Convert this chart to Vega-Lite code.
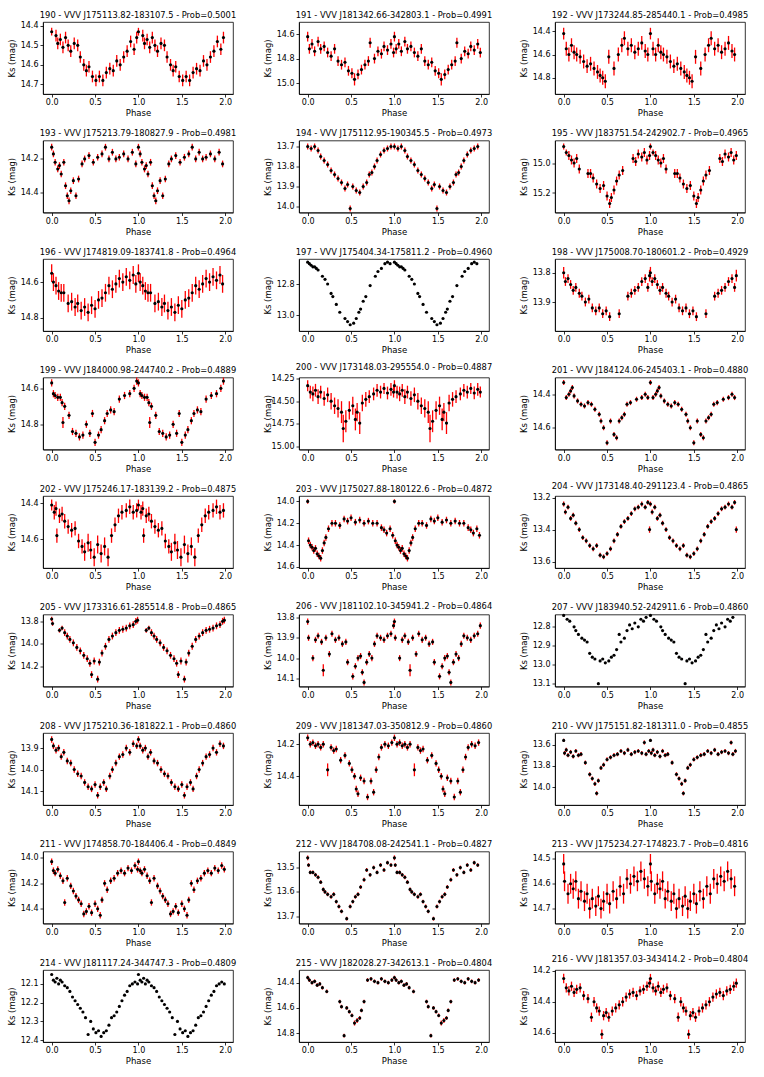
{
"$schema":"https://vega.github.io/schema/vega-lite/v6.json",
"columns":3,
"spacing":{"row":46.5,"column":66},
"bounds":"flush",
"padding":{"left":6,"top":10,"right":5,"bottom":5},
"datasets":{
"s190":[{"p":0,"m":14.43,"e":0.02},{"p":0.05,"m":14.45,"e":0.03},{"p":0.07,"m":14.49,"e":0.03},{"p":0.1,"m":14.47,"e":0.03},{"p":0.13,"m":14.51,"e":0.03},{"p":0.16,"m":14.46,"e":0.03},{"p":0.19,"m":14.5,"e":0.03},{"p":0.22,"m":14.53,"e":0.03},{"p":0.26,"m":14.49,"e":0.03},{"p":0.3,"m":14.5,"e":0.03},{"p":0.33,"m":14.56,"e":0.03},{"p":0.37,"m":14.6,"e":0.03},{"p":0.4,"m":14.63,"e":0.03},{"p":0.43,"m":14.61,"e":0.03},{"p":0.47,"m":14.66,"e":0.03},{"p":0.51,"m":14.68,"e":0.03},{"p":0.55,"m":14.66,"e":0.03},{"p":0.59,"m":14.68,"e":0.03},{"p":0.63,"m":14.64,"e":0.03},{"p":0.67,"m":14.62,"e":0.03},{"p":0.71,"m":14.63,"e":0.03},{"p":0.75,"m":14.58,"e":0.03},{"p":0.79,"m":14.6,"e":0.03},{"p":0.83,"m":14.56,"e":0.03},{"p":0.87,"m":14.53,"e":0.03},{"p":0.91,"m":14.48,"e":0.03},{"p":0.95,"m":14.52,"e":0.03},{"p":0.98,"m":14.46,"e":0.03},
{"p":1,"m":14.43,"e":0.02},{"p":1.05,"m":14.45,"e":0.03},{"p":1.07,"m":14.49,"e":0.03},{"p":1.1,"m":14.47,"e":0.03},{"p":1.13,"m":14.51,"e":0.03},{"p":1.16,"m":14.46,"e":0.03},{"p":1.19,"m":14.5,"e":0.03},{"p":1.22,"m":14.53,"e":0.03},{"p":1.26,"m":14.49,"e":0.03},{"p":1.3,"m":14.5,"e":0.03},{"p":1.33,"m":14.56,"e":0.03},{"p":1.37,"m":14.6,"e":0.03},{"p":1.4,"m":14.63,"e":0.03},{"p":1.43,"m":14.61,"e":0.03},{"p":1.47,"m":14.66,"e":0.03},{"p":1.51,"m":14.68,"e":0.03},{"p":1.55,"m":14.66,"e":0.03},{"p":1.59,"m":14.68,"e":0.03},{"p":1.63,"m":14.64,"e":0.03},{"p":1.67,"m":14.62,"e":0.03},{"p":1.71,"m":14.63,"e":0.03},{"p":1.75,"m":14.58,"e":0.03},{"p":1.79,"m":14.6,"e":0.03},{"p":1.83,"m":14.56,"e":0.03},{"p":1.87,"m":14.53,"e":0.03},{"p":1.91,"m":14.48,"e":0.03},{"p":1.95,"m":14.52,"e":0.03},{"p":1.98,"m":14.46,"e":0.03}],
"s191":[{"p":0,"m":14.62,"e":0.04},{"p":0.02,"m":14.72,"e":0.04},{"p":0.05,"m":14.68,"e":0.04},{"p":0.08,"m":14.74,"e":0.04},{"p":0.12,"m":14.66,"e":0.04},{"p":0.15,"m":14.72,"e":0.04},{"p":0.19,"m":14.7,"e":0.04},{"p":0.23,"m":14.75,"e":0.04},{"p":0.27,"m":14.78,"e":0.04},{"p":0.31,"m":14.72,"e":0.04},{"p":0.35,"m":14.82,"e":0.04},{"p":0.39,"m":14.85,"e":0.04},{"p":0.43,"m":14.83,"e":0.04},{"p":0.47,"m":14.9,"e":0.04},{"p":0.51,"m":14.92,"e":0.04},{"p":0.54,"m":14.97,"e":0.05},{"p":0.58,"m":14.93,"e":0.04},{"p":0.62,"m":14.89,"e":0.04},{"p":0.66,"m":14.85,"e":0.04},{"p":0.7,"m":14.82,"e":0.04},{"p":0.72,"m":14.67,"e":0.04},{"p":0.77,"m":14.8,"e":0.04},{"p":0.81,"m":14.74,"e":0.04},{"p":0.85,"m":14.76,"e":0.04},{"p":0.88,"m":14.7,"e":0.04},{"p":0.92,"m":14.73,"e":0.04},{"p":0.96,"m":14.68,"e":0.04},{"p":0.99,"m":14.75,"e":0.04},
{"p":1,"m":14.62,"e":0.04},{"p":1.02,"m":14.72,"e":0.04},{"p":1.05,"m":14.68,"e":0.04},{"p":1.08,"m":14.74,"e":0.04},{"p":1.12,"m":14.66,"e":0.04},{"p":1.15,"m":14.72,"e":0.04},{"p":1.19,"m":14.7,"e":0.04},{"p":1.23,"m":14.75,"e":0.04},{"p":1.27,"m":14.78,"e":0.04},{"p":1.31,"m":14.72,"e":0.04},{"p":1.35,"m":14.82,"e":0.04},{"p":1.39,"m":14.85,"e":0.04},{"p":1.43,"m":14.83,"e":0.04},{"p":1.47,"m":14.9,"e":0.04},{"p":1.51,"m":14.92,"e":0.04},{"p":1.54,"m":14.97,"e":0.05},{"p":1.58,"m":14.93,"e":0.04},{"p":1.62,"m":14.89,"e":0.04},{"p":1.66,"m":14.85,"e":0.04},{"p":1.7,"m":14.82,"e":0.04},{"p":1.72,"m":14.67,"e":0.04},{"p":1.77,"m":14.8,"e":0.04},{"p":1.81,"m":14.74,"e":0.04},{"p":1.85,"m":14.76,"e":0.04},{"p":1.88,"m":14.7,"e":0.04},{"p":1.92,"m":14.73,"e":0.04},{"p":1.96,"m":14.68,"e":0.04},{"p":1.99,"m":14.75,"e":0.04}],
"s192":[{"p":0,"m":14.42,"e":0.05},{"p":0.03,"m":14.55,"e":0.06},{"p":0.06,"m":14.6,"e":0.06},{"p":0.09,"m":14.52,"e":0.06},{"p":0.12,"m":14.58,"e":0.06},{"p":0.15,"m":14.6,"e":0.06},{"p":0.19,"m":14.62,"e":0.06},{"p":0.23,"m":14.66,"e":0.06},{"p":0.27,"m":14.7,"e":0.06},{"p":0.31,"m":14.68,"e":0.06},{"p":0.35,"m":14.72,"e":0.06},{"p":0.39,"m":14.75,"e":0.06},{"p":0.42,"m":14.78,"e":0.06},{"p":0.45,"m":14.8,"e":0.06},{"p":0.48,"m":14.83,"e":0.06},{"p":0.52,"m":14.62,"e":0.06},{"p":0.58,"m":14.72,"e":0.06},{"p":0.63,"m":14.6,"e":0.06},{"p":0.67,"m":14.52,"e":0.06},{"p":0.7,"m":14.46,"e":0.06},{"p":0.74,"m":14.55,"e":0.06},{"p":0.78,"m":14.52,"e":0.06},{"p":0.82,"m":14.58,"e":0.06},{"p":0.86,"m":14.55,"e":0.06},{"p":0.9,"m":14.5,"e":0.06},{"p":0.94,"m":14.57,"e":0.06},{"p":0.97,"m":14.6,"e":0.06},
{"p":1,"m":14.42,"e":0.05},{"p":1.03,"m":14.55,"e":0.06},{"p":1.06,"m":14.6,"e":0.06},{"p":1.09,"m":14.52,"e":0.06},{"p":1.12,"m":14.58,"e":0.06},{"p":1.15,"m":14.6,"e":0.06},{"p":1.19,"m":14.62,"e":0.06},{"p":1.23,"m":14.66,"e":0.06},{"p":1.27,"m":14.7,"e":0.06},{"p":1.31,"m":14.68,"e":0.06},{"p":1.35,"m":14.72,"e":0.06},{"p":1.39,"m":14.75,"e":0.06},{"p":1.42,"m":14.78,"e":0.06},{"p":1.45,"m":14.8,"e":0.06},{"p":1.48,"m":14.83,"e":0.06},{"p":1.52,"m":14.62,"e":0.06},{"p":1.58,"m":14.72,"e":0.06},{"p":1.63,"m":14.6,"e":0.06},{"p":1.67,"m":14.52,"e":0.06},{"p":1.7,"m":14.46,"e":0.06},{"p":1.74,"m":14.55,"e":0.06},{"p":1.78,"m":14.52,"e":0.06},{"p":1.82,"m":14.58,"e":0.06},{"p":1.86,"m":14.55,"e":0.06},{"p":1.9,"m":14.5,"e":0.06},{"p":1.94,"m":14.57,"e":0.06},{"p":1.97,"m":14.6,"e":0.06}],
"s193":[{"p":0,"m":14.13,"e":0.02},{"p":0.02,"m":14.17,"e":0.02},{"p":0.04,"m":14.22,"e":0.02},{"p":0.07,"m":14.26,"e":0.02},{"p":0.09,"m":14.24,"e":0.02},{"p":0.11,"m":14.29,"e":0.02},{"p":0.14,"m":14.22,"e":0.02},{"p":0.16,"m":14.36,"e":0.02},{"p":0.18,"m":14.42,"e":0.02},{"p":0.2,"m":14.45,"e":0.02},{"p":0.22,"m":14.39,"e":0.02},{"p":0.25,"m":14.33,"e":0.02},{"p":0.28,"m":14.42,"e":0.02},{"p":0.31,"m":14.32,"e":0.02},{"p":0.35,"m":14.23,"e":0.02},{"p":0.38,"m":14.2,"e":0.02},{"p":0.43,"m":14.18,"e":0.02},{"p":0.48,"m":14.22,"e":0.02},{"p":0.53,"m":14.19,"e":0.02},{"p":0.58,"m":14.17,"e":0.02},{"p":0.62,"m":14.13,"e":0.02},{"p":0.66,"m":14.2,"e":0.02},{"p":0.7,"m":14.16,"e":0.02},{"p":0.74,"m":14.2,"e":0.02},{"p":0.78,"m":14.19,"e":0.02},{"p":0.83,"m":14.17,"e":0.02},{"p":0.88,"m":14.2,"e":0.02},{"p":0.93,"m":14.16,"e":0.02},{"p":0.97,"m":14.23,"e":0.02},
{"p":1,"m":14.13,"e":0.02},{"p":1.02,"m":14.17,"e":0.02},{"p":1.04,"m":14.22,"e":0.02},{"p":1.07,"m":14.26,"e":0.02},{"p":1.09,"m":14.24,"e":0.02},{"p":1.11,"m":14.29,"e":0.02},{"p":1.14,"m":14.22,"e":0.02},{"p":1.16,"m":14.36,"e":0.02},{"p":1.18,"m":14.42,"e":0.02},{"p":1.2,"m":14.45,"e":0.02},{"p":1.22,"m":14.39,"e":0.02},{"p":1.25,"m":14.33,"e":0.02},{"p":1.28,"m":14.42,"e":0.02},{"p":1.31,"m":14.32,"e":0.02},{"p":1.35,"m":14.23,"e":0.02},{"p":1.38,"m":14.2,"e":0.02},{"p":1.43,"m":14.18,"e":0.02},{"p":1.48,"m":14.22,"e":0.02},{"p":1.53,"m":14.19,"e":0.02},{"p":1.58,"m":14.17,"e":0.02},{"p":1.62,"m":14.13,"e":0.02},{"p":1.66,"m":14.2,"e":0.02},{"p":1.7,"m":14.16,"e":0.02},{"p":1.74,"m":14.2,"e":0.02},{"p":1.78,"m":14.19,"e":0.02},{"p":1.83,"m":14.17,"e":0.02},{"p":1.88,"m":14.2,"e":0.02},{"p":1.93,"m":14.16,"e":0.02},{"p":1.97,"m":14.23,"e":0.02}],
"s194":[{"p":0,"m":13.7,"e":0.015},{"p":0.04,"m":13.71,"e":0.015},{"p":0.08,"m":13.7,"e":0.015},{"p":0.12,"m":13.72,"e":0.015},{"p":0.15,"m":13.75,"e":0.015},{"p":0.19,"m":13.77,"e":0.015},{"p":0.23,"m":13.79,"e":0.015},{"p":0.27,"m":13.82,"e":0.015},{"p":0.31,"m":13.84,"e":0.015},{"p":0.35,"m":13.86,"e":0.015},{"p":0.39,"m":13.88,"e":0.015},{"p":0.43,"m":13.91,"e":0.015},{"p":0.46,"m":13.89,"e":0.015},{"p":0.49,"m":14.01,"e":0.015},{"p":0.52,"m":13.9,"e":0.015},{"p":0.56,"m":13.92,"e":0.015},{"p":0.6,"m":13.93,"e":0.015},{"p":0.64,"m":13.9,"e":0.015},{"p":0.68,"m":13.88,"e":0.015},{"p":0.71,"m":13.84,"e":0.015},{"p":0.74,"m":13.83,"e":0.015},{"p":0.77,"m":13.8,"e":0.015},{"p":0.8,"m":13.77,"e":0.015},{"p":0.84,"m":13.74,"e":0.015},{"p":0.88,"m":13.72,"e":0.015},{"p":0.92,"m":13.71,"e":0.015},{"p":0.96,"m":13.7,"e":0.015},
{"p":1,"m":13.7,"e":0.015},{"p":1.04,"m":13.71,"e":0.015},{"p":1.08,"m":13.7,"e":0.015},{"p":1.12,"m":13.72,"e":0.015},{"p":1.15,"m":13.75,"e":0.015},{"p":1.19,"m":13.77,"e":0.015},{"p":1.23,"m":13.79,"e":0.015},{"p":1.27,"m":13.82,"e":0.015},{"p":1.31,"m":13.84,"e":0.015},{"p":1.35,"m":13.86,"e":0.015},{"p":1.39,"m":13.88,"e":0.015},{"p":1.43,"m":13.91,"e":0.015},{"p":1.46,"m":13.89,"e":0.015},{"p":1.49,"m":14.01,"e":0.015},{"p":1.52,"m":13.9,"e":0.015},{"p":1.56,"m":13.92,"e":0.015},{"p":1.6,"m":13.93,"e":0.015},{"p":1.64,"m":13.9,"e":0.015},{"p":1.68,"m":13.88,"e":0.015},{"p":1.71,"m":13.84,"e":0.015},{"p":1.74,"m":13.83,"e":0.015},{"p":1.77,"m":13.8,"e":0.015},{"p":1.8,"m":13.77,"e":0.015},{"p":1.84,"m":13.74,"e":0.015},{"p":1.88,"m":13.72,"e":0.015},{"p":1.92,"m":13.71,"e":0.015},{"p":1.96,"m":13.7,"e":0.015}],
"s195":[{"p":0,"m":14.89,"e":0.02},{"p":0.03,"m":14.93,"e":0.02},{"p":0.06,"m":14.95,"e":0.03},{"p":0.09,"m":14.98,"e":0.03},{"p":0.12,"m":15,"e":0.03},{"p":0.15,"m":14.97,"e":0.03},{"p":0.18,"m":15.04,"e":0.03},{"p":0.28,"m":15.07,"e":0.03},{"p":0.31,"m":15.07,"e":0.03},{"p":0.34,"m":15.1,"e":0.03},{"p":0.38,"m":15.14,"e":0.03},{"p":0.42,"m":15.17,"e":0.03},{"p":0.46,"m":15.15,"e":0.03},{"p":0.5,"m":15.22,"e":0.03},{"p":0.53,"m":15.27,"e":0.03},{"p":0.55,"m":15.23,"e":0.03},{"p":0.58,"m":15.18,"e":0.03},{"p":0.61,"m":15.12,"e":0.03},{"p":0.64,"m":15.08,"e":0.03},{"p":0.68,"m":15.05,"e":0.03},{"p":0.8,"m":14.97,"e":0.03},{"p":0.83,"m":14.99,"e":0.03},{"p":0.86,"m":14.94,"e":0.03},{"p":0.9,"m":14.96,"e":0.03},{"p":0.93,"m":14.93,"e":0.03},{"p":0.96,"m":14.98,"e":0.03},{"p":0.99,"m":14.95,"e":0.03},
{"p":1,"m":14.89,"e":0.02},{"p":1.03,"m":14.93,"e":0.02},{"p":1.06,"m":14.95,"e":0.03},{"p":1.09,"m":14.98,"e":0.03},{"p":1.12,"m":15,"e":0.03},{"p":1.15,"m":14.97,"e":0.03},{"p":1.18,"m":15.04,"e":0.03},{"p":1.28,"m":15.07,"e":0.03},{"p":1.31,"m":15.07,"e":0.03},{"p":1.34,"m":15.1,"e":0.03},{"p":1.38,"m":15.14,"e":0.03},{"p":1.42,"m":15.17,"e":0.03},{"p":1.46,"m":15.15,"e":0.03},{"p":1.5,"m":15.22,"e":0.03},{"p":1.53,"m":15.27,"e":0.03},{"p":1.55,"m":15.23,"e":0.03},{"p":1.58,"m":15.18,"e":0.03},{"p":1.61,"m":15.12,"e":0.03},{"p":1.64,"m":15.08,"e":0.03},{"p":1.68,"m":15.05,"e":0.03},{"p":1.8,"m":14.97,"e":0.03},{"p":1.83,"m":14.99,"e":0.03},{"p":1.86,"m":14.94,"e":0.03},{"p":1.9,"m":14.96,"e":0.03},{"p":1.93,"m":14.93,"e":0.03},{"p":1.96,"m":14.98,"e":0.03},{"p":1.99,"m":14.95,"e":0.03}],
"s196":[{"p":0,"m":14.55,"e":0.05},{"p":0.02,"m":14.6,"e":0.05},{"p":0.05,"m":14.62,"e":0.05},{"p":0.08,"m":14.65,"e":0.05},{"p":0.11,"m":14.66,"e":0.05},{"p":0.14,"m":14.66,"e":0.05},{"p":0.19,"m":14.72,"e":0.05},{"p":0.23,"m":14.71,"e":0.05},{"p":0.27,"m":14.74,"e":0.05},{"p":0.3,"m":14.72,"e":0.05},{"p":0.34,"m":14.76,"e":0.05},{"p":0.38,"m":14.74,"e":0.05},{"p":0.42,"m":14.77,"e":0.05},{"p":0.46,"m":14.73,"e":0.05},{"p":0.5,"m":14.75,"e":0.05},{"p":0.54,"m":14.7,"e":0.05},{"p":0.58,"m":14.69,"e":0.05},{"p":0.62,"m":14.66,"e":0.05},{"p":0.66,"m":14.62,"e":0.05},{"p":0.7,"m":14.64,"e":0.05},{"p":0.74,"m":14.61,"e":0.05},{"p":0.78,"m":14.58,"e":0.05},{"p":0.82,"m":14.6,"e":0.05},{"p":0.86,"m":14.57,"e":0.05},{"p":0.9,"m":14.59,"e":0.05},{"p":0.94,"m":14.56,"e":0.05},{"p":0.97,"m":14.61,"e":0.05},
{"p":1,"m":14.55,"e":0.05},{"p":1.02,"m":14.6,"e":0.05},{"p":1.05,"m":14.62,"e":0.05},{"p":1.08,"m":14.65,"e":0.05},{"p":1.11,"m":14.66,"e":0.05},{"p":1.14,"m":14.66,"e":0.05},{"p":1.19,"m":14.72,"e":0.05},{"p":1.23,"m":14.71,"e":0.05},{"p":1.27,"m":14.74,"e":0.05},{"p":1.3,"m":14.72,"e":0.05},{"p":1.34,"m":14.76,"e":0.05},{"p":1.38,"m":14.74,"e":0.05},{"p":1.42,"m":14.77,"e":0.05},{"p":1.46,"m":14.73,"e":0.05},{"p":1.5,"m":14.75,"e":0.05},{"p":1.54,"m":14.7,"e":0.05},{"p":1.58,"m":14.69,"e":0.05},{"p":1.62,"m":14.66,"e":0.05},{"p":1.66,"m":14.62,"e":0.05},{"p":1.7,"m":14.64,"e":0.05},{"p":1.74,"m":14.61,"e":0.05},{"p":1.78,"m":14.58,"e":0.05},{"p":1.82,"m":14.6,"e":0.05},{"p":1.86,"m":14.57,"e":0.05},{"p":1.9,"m":14.59,"e":0.05},{"p":1.94,"m":14.56,"e":0.05},{"p":1.97,"m":14.61,"e":0.05}],
"s197":[{"p":0,"m":12.66,"e":0.004},{"p":0.02,"m":12.67,"e":0.004},{"p":0.04,"m":12.68,"e":0.004},{"p":0.06,"m":12.69,"e":0.004},{"p":0.08,"m":12.69,"e":0.004},{"p":0.1,"m":12.7,"e":0.004},{"p":0.12,"m":12.71,"e":0.004},{"p":0.17,"m":12.75,"e":0.004},{"p":0.2,"m":12.77,"e":0.004},{"p":0.23,"m":12.8,"e":0.004},{"p":0.27,"m":12.86,"e":0.004},{"p":0.29,"m":12.88,"e":0.004},{"p":0.33,"m":12.93,"e":0.004},{"p":0.37,"m":12.98,"e":0.004},{"p":0.43,"m":13.02,"e":0.004},{"p":0.46,"m":13.04,"e":0.004},{"p":0.49,"m":13.06,"e":0.004},{"p":0.53,"m":13.05,"e":0.004},{"p":0.56,"m":13.02,"e":0.004},{"p":0.59,"m":12.98,"e":0.004},{"p":0.61,"m":12.96,"e":0.004},{"p":0.64,"m":12.91,"e":0.004},{"p":0.67,"m":12.88,"e":0.004},{"p":0.72,"m":12.81,"e":0.004},{"p":0.78,"m":12.75,"e":0.004},{"p":0.81,"m":12.72,"e":0.004},{"p":0.85,"m":12.7,"e":0.004},{"p":0.89,"m":12.67,"e":0.004},{"p":0.92,"m":12.66,"e":0.004},{"p":0.95,"m":12.67,"e":0.004},
{"p":1,"m":12.66,"e":0.004},{"p":1.02,"m":12.67,"e":0.004},{"p":1.04,"m":12.68,"e":0.004},{"p":1.06,"m":12.69,"e":0.004},{"p":1.08,"m":12.69,"e":0.004},{"p":1.1,"m":12.7,"e":0.004},{"p":1.12,"m":12.71,"e":0.004},{"p":1.17,"m":12.75,"e":0.004},{"p":1.2,"m":12.77,"e":0.004},{"p":1.23,"m":12.8,"e":0.004},{"p":1.27,"m":12.86,"e":0.004},{"p":1.29,"m":12.88,"e":0.004},{"p":1.33,"m":12.93,"e":0.004},{"p":1.37,"m":12.98,"e":0.004},{"p":1.43,"m":13.02,"e":0.004},{"p":1.46,"m":13.04,"e":0.004},{"p":1.49,"m":13.06,"e":0.004},{"p":1.53,"m":13.05,"e":0.004},{"p":1.56,"m":13.02,"e":0.004},{"p":1.59,"m":12.98,"e":0.004},{"p":1.61,"m":12.96,"e":0.004},{"p":1.64,"m":12.91,"e":0.004},{"p":1.67,"m":12.88,"e":0.004},{"p":1.72,"m":12.81,"e":0.004},{"p":1.78,"m":12.75,"e":0.004},{"p":1.81,"m":12.72,"e":0.004},{"p":1.85,"m":12.7,"e":0.004},{"p":1.89,"m":12.67,"e":0.004},{"p":1.92,"m":12.66,"e":0.004},{"p":1.95,"m":12.67,"e":0.004}],
"s198":[{"p":0,"m":13.8,"e":0.02},{"p":0.02,"m":13.83,"e":0.015},{"p":0.05,"m":13.82,"e":0.015},{"p":0.08,"m":13.84,"e":0.015},{"p":0.11,"m":13.86,"e":0.015},{"p":0.14,"m":13.85,"e":0.015},{"p":0.18,"m":13.87,"e":0.015},{"p":0.21,"m":13.88,"e":0.015},{"p":0.25,"m":13.9,"e":0.015},{"p":0.29,"m":13.89,"e":0.015},{"p":0.33,"m":13.92,"e":0.015},{"p":0.37,"m":13.93,"e":0.015},{"p":0.41,"m":13.92,"e":0.015},{"p":0.45,"m":13.94,"e":0.015},{"p":0.49,"m":13.93,"e":0.015},{"p":0.53,"m":13.95,"e":0.015},{"p":0.64,"m":13.94,"e":0.015},{"p":0.74,"m":13.88,"e":0.015},{"p":0.78,"m":13.87,"e":0.015},{"p":0.82,"m":13.86,"e":0.015},{"p":0.86,"m":13.85,"e":0.015},{"p":0.9,"m":13.83,"e":0.015},{"p":0.94,"m":13.82,"e":0.015},{"p":0.97,"m":13.85,"e":0.015},{"p":0.99,"m":13.81,"e":0.02},
{"p":1,"m":13.8,"e":0.02},{"p":1.02,"m":13.83,"e":0.015},{"p":1.05,"m":13.82,"e":0.015},{"p":1.08,"m":13.84,"e":0.015},{"p":1.11,"m":13.86,"e":0.015},{"p":1.14,"m":13.85,"e":0.015},{"p":1.18,"m":13.87,"e":0.015},{"p":1.21,"m":13.88,"e":0.015},{"p":1.25,"m":13.9,"e":0.015},{"p":1.29,"m":13.89,"e":0.015},{"p":1.33,"m":13.92,"e":0.015},{"p":1.37,"m":13.93,"e":0.015},{"p":1.41,"m":13.92,"e":0.015},{"p":1.45,"m":13.94,"e":0.015},{"p":1.49,"m":13.93,"e":0.015},{"p":1.53,"m":13.95,"e":0.015},{"p":1.64,"m":13.94,"e":0.015},{"p":1.74,"m":13.88,"e":0.015},{"p":1.78,"m":13.87,"e":0.015},{"p":1.82,"m":13.86,"e":0.015},{"p":1.86,"m":13.85,"e":0.015},{"p":1.9,"m":13.83,"e":0.015},{"p":1.94,"m":13.82,"e":0.015},{"p":1.97,"m":13.85,"e":0.015},{"p":1.99,"m":13.81,"e":0.02}],
"s199":[{"p":0,"m":14.57,"e":0.02},{"p":0.02,"m":14.63,"e":0.02},{"p":0.04,"m":14.64,"e":0.02},{"p":0.07,"m":14.65,"e":0.02},{"p":0.1,"m":14.65,"e":0.02},{"p":0.12,"m":14.68,"e":0.02},{"p":0.13,"m":14.79,"e":0.03},{"p":0.15,"m":14.7,"e":0.02},{"p":0.2,"m":14.75,"e":0.02},{"p":0.24,"m":14.84,"e":0.02},{"p":0.28,"m":14.85,"e":0.02},{"p":0.32,"m":14.87,"e":0.02},{"p":0.36,"m":14.86,"e":0.02},{"p":0.4,"m":14.8,"e":0.02},{"p":0.44,"m":14.85,"e":0.02},{"p":0.47,"m":14.74,"e":0.02},{"p":0.5,"m":14.9,"e":0.02},{"p":0.54,"m":14.86,"e":0.02},{"p":0.57,"m":14.83,"e":0.02},{"p":0.61,"m":14.78,"e":0.02},{"p":0.64,"m":14.74,"e":0.02},{"p":0.68,"m":14.72,"e":0.02},{"p":0.72,"m":14.73,"e":0.02},{"p":0.78,"m":14.66,"e":0.02},{"p":0.84,"m":14.64,"e":0.02},{"p":0.9,"m":14.63,"e":0.02},{"p":0.95,"m":14.6,"e":0.02},{"p":0.98,"m":14.56,"e":0.02},
{"p":1,"m":14.57,"e":0.02},{"p":1.02,"m":14.63,"e":0.02},{"p":1.04,"m":14.64,"e":0.02},{"p":1.07,"m":14.65,"e":0.02},{"p":1.1,"m":14.65,"e":0.02},{"p":1.12,"m":14.68,"e":0.02},{"p":1.13,"m":14.79,"e":0.03},{"p":1.15,"m":14.7,"e":0.02},{"p":1.2,"m":14.75,"e":0.02},{"p":1.24,"m":14.84,"e":0.02},{"p":1.28,"m":14.85,"e":0.02},{"p":1.32,"m":14.87,"e":0.02},{"p":1.36,"m":14.86,"e":0.02},{"p":1.4,"m":14.8,"e":0.02},{"p":1.44,"m":14.85,"e":0.02},{"p":1.47,"m":14.74,"e":0.02},{"p":1.5,"m":14.9,"e":0.02},{"p":1.54,"m":14.86,"e":0.02},{"p":1.57,"m":14.83,"e":0.02},{"p":1.61,"m":14.78,"e":0.02},{"p":1.64,"m":14.74,"e":0.02},{"p":1.68,"m":14.72,"e":0.02},{"p":1.72,"m":14.73,"e":0.02},{"p":1.78,"m":14.66,"e":0.02},{"p":1.84,"m":14.64,"e":0.02},{"p":1.9,"m":14.63,"e":0.02},{"p":1.95,"m":14.6,"e":0.02},{"p":1.98,"m":14.56,"e":0.02}],
"s200":[{"p":0,"m":14.33,"e":0.06},{"p":0.03,"m":14.4,"e":0.07},{"p":0.06,"m":14.42,"e":0.08},{"p":0.09,"m":14.38,"e":0.07},{"p":0.12,"m":14.45,"e":0.08},{"p":0.15,"m":14.4,"e":0.07},{"p":0.19,"m":14.47,"e":0.08},{"p":0.23,"m":14.43,"e":0.08},{"p":0.27,"m":14.5,"e":0.09},{"p":0.31,"m":14.55,"e":0.09},{"p":0.35,"m":14.58,"e":0.1},{"p":0.39,"m":14.62,"e":0.12},{"p":0.41,"m":14.8,"e":0.15},{"p":0.44,"m":14.72,"e":0.12},{"p":0.48,"m":14.6,"e":0.1},{"p":0.52,"m":14.55,"e":0.1},{"p":0.55,"m":14.7,"e":0.12},{"p":0.57,"m":14.62,"e":0.1},{"p":0.6,"m":14.74,"e":0.12},{"p":0.63,"m":14.52,"e":0.09},{"p":0.67,"m":14.48,"e":0.08},{"p":0.71,"m":14.45,"e":0.07},{"p":0.76,"m":14.42,"e":0.07},{"p":0.8,"m":14.38,"e":0.07},{"p":0.84,"m":14.4,"e":0.07},{"p":0.88,"m":14.36,"e":0.06},{"p":0.92,"m":14.41,"e":0.07},{"p":0.96,"m":14.37,"e":0.07},{"p":0.99,"m":14.4,"e":0.06},
{"p":1,"m":14.33,"e":0.06},{"p":1.03,"m":14.4,"e":0.07},{"p":1.06,"m":14.42,"e":0.08},{"p":1.09,"m":14.38,"e":0.07},{"p":1.12,"m":14.45,"e":0.08},{"p":1.15,"m":14.4,"e":0.07},{"p":1.19,"m":14.47,"e":0.08},{"p":1.23,"m":14.43,"e":0.08},{"p":1.27,"m":14.5,"e":0.09},{"p":1.31,"m":14.55,"e":0.09},{"p":1.35,"m":14.58,"e":0.1},{"p":1.39,"m":14.62,"e":0.12},{"p":1.41,"m":14.8,"e":0.15},{"p":1.44,"m":14.72,"e":0.12},{"p":1.48,"m":14.6,"e":0.1},{"p":1.52,"m":14.55,"e":0.1},{"p":1.55,"m":14.7,"e":0.12},{"p":1.57,"m":14.62,"e":0.1},{"p":1.6,"m":14.74,"e":0.12},{"p":1.63,"m":14.52,"e":0.09},{"p":1.67,"m":14.48,"e":0.08},{"p":1.71,"m":14.45,"e":0.07},{"p":1.76,"m":14.42,"e":0.07},{"p":1.8,"m":14.38,"e":0.07},{"p":1.84,"m":14.4,"e":0.07},{"p":1.88,"m":14.36,"e":0.06},{"p":1.92,"m":14.41,"e":0.07},{"p":1.96,"m":14.37,"e":0.07},{"p":1.99,"m":14.4,"e":0.06}],
"s201":[{"p":0,"m":14.33,"e":0.015},{"p":0.03,"m":14.42,"e":0.015},{"p":0.06,"m":14.4,"e":0.015},{"p":0.08,"m":14.38,"e":0.015},{"p":0.1,"m":14.36,"e":0.015},{"p":0.12,"m":14.41,"e":0.015},{"p":0.16,"m":14.44,"e":0.015},{"p":0.2,"m":14.46,"e":0.015},{"p":0.24,"m":14.47,"e":0.015},{"p":0.28,"m":14.45,"e":0.015},{"p":0.32,"m":14.46,"e":0.015},{"p":0.36,"m":14.49,"e":0.015},{"p":0.41,"m":14.52,"e":0.015},{"p":0.43,"m":14.56,"e":0.015},{"p":0.46,"m":14.6,"e":0.015},{"p":0.5,"m":14.69,"e":0.015},{"p":0.54,"m":14.56,"e":0.015},{"p":0.58,"m":14.64,"e":0.015},{"p":0.61,"m":14.66,"e":0.015},{"p":0.64,"m":14.56,"e":0.015},{"p":0.67,"m":14.54,"e":0.015},{"p":0.7,"m":14.52,"e":0.015},{"p":0.73,"m":14.46,"e":0.015},{"p":0.77,"m":14.45,"e":0.015},{"p":0.84,"m":14.43,"e":0.015},{"p":0.9,"m":14.42,"e":0.015},{"p":0.94,"m":14.4,"e":0.015},{"p":0.97,"m":14.42,"e":0.015},
{"p":1,"m":14.33,"e":0.015},{"p":1.03,"m":14.42,"e":0.015},{"p":1.06,"m":14.4,"e":0.015},{"p":1.08,"m":14.38,"e":0.015},{"p":1.1,"m":14.36,"e":0.015},{"p":1.12,"m":14.41,"e":0.015},{"p":1.16,"m":14.44,"e":0.015},{"p":1.2,"m":14.46,"e":0.015},{"p":1.24,"m":14.47,"e":0.015},{"p":1.28,"m":14.45,"e":0.015},{"p":1.32,"m":14.46,"e":0.015},{"p":1.36,"m":14.49,"e":0.015},{"p":1.41,"m":14.52,"e":0.015},{"p":1.43,"m":14.56,"e":0.015},{"p":1.46,"m":14.6,"e":0.015},{"p":1.5,"m":14.69,"e":0.015},{"p":1.54,"m":14.56,"e":0.015},{"p":1.58,"m":14.64,"e":0.015},{"p":1.61,"m":14.66,"e":0.015},{"p":1.64,"m":14.56,"e":0.015},{"p":1.67,"m":14.54,"e":0.015},{"p":1.7,"m":14.52,"e":0.015},{"p":1.73,"m":14.46,"e":0.015},{"p":1.77,"m":14.45,"e":0.015},{"p":1.84,"m":14.43,"e":0.015},{"p":1.9,"m":14.42,"e":0.015},{"p":1.94,"m":14.4,"e":0.015},{"p":1.97,"m":14.42,"e":0.015}],
"s202":[{"p":0,"m":14.41,"e":0.03},{"p":0.03,"m":14.45,"e":0.04},{"p":0.05,"m":14.43,"e":0.04},{"p":0.06,"m":14.58,"e":0.04},{"p":0.09,"m":14.47,"e":0.04},{"p":0.12,"m":14.46,"e":0.04},{"p":0.15,"m":14.5,"e":0.04},{"p":0.19,"m":14.53,"e":0.04},{"p":0.23,"m":14.55,"e":0.04},{"p":0.27,"m":14.54,"e":0.04},{"p":0.31,"m":14.61,"e":0.04},{"p":0.35,"m":14.64,"e":0.04},{"p":0.38,"m":14.67,"e":0.05},{"p":0.42,"m":14.62,"e":0.05},{"p":0.45,"m":14.66,"e":0.05},{"p":0.49,"m":14.7,"e":0.05},{"p":0.53,"m":14.63,"e":0.05},{"p":0.57,"m":14.68,"e":0.05},{"p":0.61,"m":14.64,"e":0.05},{"p":0.65,"m":14.7,"e":0.05},{"p":0.69,"m":14.58,"e":0.04},{"p":0.73,"m":14.52,"e":0.04},{"p":0.77,"m":14.47,"e":0.04},{"p":0.81,"m":14.45,"e":0.04},{"p":0.86,"m":14.44,"e":0.04},{"p":0.9,"m":14.42,"e":0.04},{"p":0.94,"m":14.45,"e":0.04},{"p":0.98,"m":14.44,"e":0.04},
{"p":1,"m":14.41,"e":0.03},{"p":1.03,"m":14.45,"e":0.04},{"p":1.05,"m":14.43,"e":0.04},{"p":1.06,"m":14.58,"e":0.04},{"p":1.09,"m":14.47,"e":0.04},{"p":1.12,"m":14.46,"e":0.04},{"p":1.15,"m":14.5,"e":0.04},{"p":1.19,"m":14.53,"e":0.04},{"p":1.23,"m":14.55,"e":0.04},{"p":1.27,"m":14.54,"e":0.04},{"p":1.31,"m":14.61,"e":0.04},{"p":1.35,"m":14.64,"e":0.04},{"p":1.38,"m":14.67,"e":0.05},{"p":1.42,"m":14.62,"e":0.05},{"p":1.45,"m":14.66,"e":0.05},{"p":1.49,"m":14.7,"e":0.05},{"p":1.53,"m":14.63,"e":0.05},{"p":1.57,"m":14.68,"e":0.05},{"p":1.61,"m":14.64,"e":0.05},{"p":1.65,"m":14.7,"e":0.05},{"p":1.69,"m":14.58,"e":0.04},{"p":1.73,"m":14.52,"e":0.04},{"p":1.77,"m":14.47,"e":0.04},{"p":1.81,"m":14.45,"e":0.04},{"p":1.86,"m":14.44,"e":0.04},{"p":1.9,"m":14.42,"e":0.04},{"p":1.94,"m":14.45,"e":0.04},{"p":1.98,"m":14.44,"e":0.04}],
"s203":[{"p":0,"m":14,"e":0.02},{"p":0.01,"m":14.36,"e":0.03},{"p":0.03,"m":14.4,"e":0.03},{"p":0.05,"m":14.42,"e":0.03},{"p":0.07,"m":14.45,"e":0.03},{"p":0.09,"m":14.43,"e":0.03},{"p":0.11,"m":14.48,"e":0.03},{"p":0.13,"m":14.5,"e":0.03},{"p":0.15,"m":14.52,"e":0.03},{"p":0.17,"m":14.45,"e":0.03},{"p":0.19,"m":14.38,"e":0.03},{"p":0.21,"m":14.33,"e":0.03},{"p":0.24,"m":14.25,"e":0.03},{"p":0.28,"m":14.2,"e":0.03},{"p":0.32,"m":14.2,"e":0.03},{"p":0.37,"m":14.22,"e":0.03},{"p":0.42,"m":14.16,"e":0.03},{"p":0.46,"m":14.18,"e":0.03},{"p":0.5,"m":14.15,"e":0.03},{"p":0.55,"m":14.19,"e":0.03},{"p":0.6,"m":14.17,"e":0.03},{"p":0.65,"m":14.2,"e":0.03},{"p":0.7,"m":14.18,"e":0.03},{"p":0.75,"m":14.2,"e":0.03},{"p":0.8,"m":14.2,"e":0.03},{"p":0.85,"m":14.24,"e":0.03},{"p":0.88,"m":14.26,"e":0.03},{"p":0.91,"m":14.29,"e":0.03},{"p":0.95,"m":14.25,"e":0.03},{"p":0.98,"m":14.31,"e":0.03},
{"p":1,"m":14,"e":0.02},{"p":1.01,"m":14.36,"e":0.03},{"p":1.03,"m":14.4,"e":0.03},{"p":1.05,"m":14.42,"e":0.03},{"p":1.07,"m":14.45,"e":0.03},{"p":1.09,"m":14.43,"e":0.03},{"p":1.11,"m":14.48,"e":0.03},{"p":1.13,"m":14.5,"e":0.03},{"p":1.15,"m":14.52,"e":0.03},{"p":1.17,"m":14.45,"e":0.03},{"p":1.19,"m":14.38,"e":0.03},{"p":1.21,"m":14.33,"e":0.03},{"p":1.24,"m":14.25,"e":0.03},{"p":1.28,"m":14.2,"e":0.03},{"p":1.32,"m":14.2,"e":0.03},{"p":1.37,"m":14.22,"e":0.03},{"p":1.42,"m":14.16,"e":0.03},{"p":1.46,"m":14.18,"e":0.03},{"p":1.5,"m":14.15,"e":0.03},{"p":1.55,"m":14.19,"e":0.03},{"p":1.6,"m":14.17,"e":0.03},{"p":1.65,"m":14.2,"e":0.03},{"p":1.7,"m":14.18,"e":0.03},{"p":1.75,"m":14.2,"e":0.03},{"p":1.8,"m":14.2,"e":0.03},{"p":1.85,"m":14.24,"e":0.03},{"p":1.88,"m":14.26,"e":0.03},{"p":1.91,"m":14.29,"e":0.03},{"p":1.95,"m":14.25,"e":0.03},{"p":1.98,"m":14.31,"e":0.03}],
"s204":[{"p":0,"m":13.24,"e":0.015},{"p":0.02,"m":13.29,"e":0.015},{"p":0.05,"m":13.26,"e":0.015},{"p":0.08,"m":13.33,"e":0.015},{"p":0.11,"m":13.31,"e":0.015},{"p":0.14,"m":13.36,"e":0.015},{"p":0.18,"m":13.4,"e":0.015},{"p":0.22,"m":13.45,"e":0.015},{"p":0.26,"m":13.47,"e":0.015},{"p":0.3,"m":13.5,"e":0.015},{"p":0.34,"m":13.52,"e":0.015},{"p":0.38,"m":13.5,"e":0.015},{"p":0.42,"m":13.56,"e":0.015},{"p":0.46,"m":13.57,"e":0.015},{"p":0.5,"m":13.55,"e":0.015},{"p":0.54,"m":13.52,"e":0.015},{"p":0.58,"m":13.47,"e":0.015},{"p":0.62,"m":13.43,"e":0.015},{"p":0.66,"m":13.38,"e":0.015},{"p":0.7,"m":13.35,"e":0.015},{"p":0.74,"m":13.33,"e":0.015},{"p":0.78,"m":13.3,"e":0.015},{"p":0.82,"m":13.27,"e":0.015},{"p":0.86,"m":13.26,"e":0.015},{"p":0.9,"m":13.24,"e":0.015},{"p":0.94,"m":13.26,"e":0.015},{"p":0.97,"m":13.23,"e":0.015},{"p":0.99,"m":13.4,"e":0.02},
{"p":1,"m":13.24,"e":0.015},{"p":1.02,"m":13.29,"e":0.015},{"p":1.05,"m":13.26,"e":0.015},{"p":1.08,"m":13.33,"e":0.015},{"p":1.11,"m":13.31,"e":0.015},{"p":1.14,"m":13.36,"e":0.015},{"p":1.18,"m":13.4,"e":0.015},{"p":1.22,"m":13.45,"e":0.015},{"p":1.26,"m":13.47,"e":0.015},{"p":1.3,"m":13.5,"e":0.015},{"p":1.34,"m":13.52,"e":0.015},{"p":1.38,"m":13.5,"e":0.015},{"p":1.42,"m":13.56,"e":0.015},{"p":1.46,"m":13.57,"e":0.015},{"p":1.5,"m":13.55,"e":0.015},{"p":1.54,"m":13.52,"e":0.015},{"p":1.58,"m":13.47,"e":0.015},{"p":1.62,"m":13.43,"e":0.015},{"p":1.66,"m":13.38,"e":0.015},{"p":1.7,"m":13.35,"e":0.015},{"p":1.74,"m":13.33,"e":0.015},{"p":1.78,"m":13.3,"e":0.015},{"p":1.82,"m":13.27,"e":0.015},{"p":1.86,"m":13.26,"e":0.015},{"p":1.9,"m":13.24,"e":0.015},{"p":1.94,"m":13.26,"e":0.015},{"p":1.97,"m":13.23,"e":0.015},{"p":1.99,"m":13.4,"e":0.02}],
"s205":[{"p":0,"m":13.78,"e":0.02},{"p":0.01,"m":13.82,"e":0.02},{"p":0.09,"m":13.88,"e":0.02},{"p":0.12,"m":13.86,"e":0.02},{"p":0.15,"m":13.9,"e":0.03},{"p":0.18,"m":13.93,"e":0.03},{"p":0.21,"m":13.96,"e":0.03},{"p":0.25,"m":13.99,"e":0.03},{"p":0.29,"m":14.03,"e":0.03},{"p":0.33,"m":14.06,"e":0.03},{"p":0.37,"m":14.1,"e":0.03},{"p":0.41,"m":14.13,"e":0.03},{"p":0.44,"m":14.17,"e":0.03},{"p":0.46,"m":14.27,"e":0.03},{"p":0.49,"m":14.15,"e":0.03},{"p":0.53,"m":14.31,"e":0.03},{"p":0.55,"m":14.16,"e":0.03},{"p":0.58,"m":14.08,"e":0.03},{"p":0.62,"m":14.02,"e":0.03},{"p":0.66,"m":13.96,"e":0.03},{"p":0.7,"m":13.93,"e":0.03},{"p":0.74,"m":13.9,"e":0.03},{"p":0.78,"m":13.88,"e":0.03},{"p":0.82,"m":13.87,"e":0.03},{"p":0.86,"m":13.86,"e":0.03},{"p":0.9,"m":13.84,"e":0.03},{"p":0.94,"m":13.83,"e":0.03},{"p":0.97,"m":13.8,"e":0.03},{"p":0.99,"m":13.79,"e":0.03},
{"p":1.09,"m":13.88,"e":0.02},{"p":1.12,"m":13.86,"e":0.02},{"p":1.15,"m":13.9,"e":0.03},{"p":1.18,"m":13.93,"e":0.03},{"p":1.21,"m":13.96,"e":0.03},{"p":1.25,"m":13.99,"e":0.03},{"p":1.29,"m":14.03,"e":0.03},{"p":1.33,"m":14.06,"e":0.03},{"p":1.37,"m":14.1,"e":0.03},{"p":1.41,"m":14.13,"e":0.03},{"p":1.44,"m":14.17,"e":0.03},{"p":1.46,"m":14.27,"e":0.03},{"p":1.49,"m":14.15,"e":0.03},{"p":1.53,"m":14.31,"e":0.03},{"p":1.55,"m":14.16,"e":0.03},{"p":1.58,"m":14.08,"e":0.03},{"p":1.62,"m":14.02,"e":0.03},{"p":1.66,"m":13.96,"e":0.03},{"p":1.7,"m":13.93,"e":0.03},{"p":1.74,"m":13.9,"e":0.03},{"p":1.78,"m":13.88,"e":0.03},{"p":1.82,"m":13.87,"e":0.03},{"p":1.86,"m":13.86,"e":0.03},{"p":1.9,"m":13.84,"e":0.03},{"p":1.94,"m":13.83,"e":0.03},{"p":1.97,"m":13.8,"e":0.03},{"p":1.99,"m":13.79,"e":0.03}],
"s206":[{"p":0,"m":13.82,"e":0.015},{"p":0.01,"m":13.9,"e":0.015},{"p":0.06,"m":14,"e":0.015},{"p":0.09,"m":13.91,"e":0.015},{"p":0.12,"m":13.89,"e":0.015},{"p":0.16,"m":13.92,"e":0.015},{"p":0.18,"m":14.06,"e":0.03},{"p":0.21,"m":13.9,"e":0.015},{"p":0.25,"m":13.98,"e":0.015},{"p":0.28,"m":13.88,"e":0.015},{"p":0.32,"m":13.91,"e":0.015},{"p":0.36,"m":13.9,"e":0.015},{"p":0.4,"m":13.93,"e":0.015},{"p":0.44,"m":13.92,"e":0.015},{"p":0.46,"m":14.02,"e":0.015},{"p":0.52,"m":14.09,"e":0.015},{"p":0.55,"m":14.04,"e":0.015},{"p":0.58,"m":14,"e":0.015},{"p":0.61,"m":13.99,"e":0.015},{"p":0.63,"m":14.07,"e":0.015},{"p":0.65,"m":14.12,"e":0.015},{"p":0.68,"m":14.02,"e":0.015},{"p":0.71,"m":13.98,"e":0.015},{"p":0.74,"m":14,"e":0.015},{"p":0.77,"m":13.93,"e":0.015},{"p":0.8,"m":13.89,"e":0.015},{"p":0.84,"m":13.9,"e":0.015},{"p":0.88,"m":13.91,"e":0.015},{"p":0.92,"m":13.89,"e":0.015},{"p":0.96,"m":13.88,"e":0.015},{"p":0.99,"m":13.84,"e":0.015},
{"p":1,"m":13.82,"e":0.015},{"p":1.01,"m":13.9,"e":0.015},{"p":1.06,"m":14,"e":0.015},{"p":1.09,"m":13.91,"e":0.015},{"p":1.12,"m":13.89,"e":0.015},{"p":1.16,"m":13.92,"e":0.015},{"p":1.18,"m":14.06,"e":0.03},{"p":1.21,"m":13.9,"e":0.015},{"p":1.25,"m":13.98,"e":0.015},{"p":1.28,"m":13.88,"e":0.015},{"p":1.32,"m":13.91,"e":0.015},{"p":1.36,"m":13.9,"e":0.015},{"p":1.4,"m":13.93,"e":0.015},{"p":1.44,"m":13.92,"e":0.015},{"p":1.46,"m":14.02,"e":0.015},{"p":1.52,"m":14.09,"e":0.015},{"p":1.55,"m":14.04,"e":0.015},{"p":1.58,"m":14,"e":0.015},{"p":1.61,"m":13.99,"e":0.015},{"p":1.63,"m":14.07,"e":0.015},{"p":1.65,"m":14.12,"e":0.015},{"p":1.68,"m":14.02,"e":0.015},{"p":1.71,"m":13.98,"e":0.015},{"p":1.74,"m":14,"e":0.015},{"p":1.77,"m":13.93,"e":0.015},{"p":1.8,"m":13.89,"e":0.015},{"p":1.84,"m":13.9,"e":0.015},{"p":1.88,"m":13.91,"e":0.015},{"p":1.92,"m":13.89,"e":0.015},{"p":1.96,"m":13.88,"e":0.015},{"p":1.99,"m":13.84,"e":0.015}],
"s207":[{"p":0,"m":12.74,"e":0.004},{"p":0.04,"m":12.76,"e":0.004},{"p":0.07,"m":12.77,"e":0.004},{"p":0.12,"m":12.8,"e":0.004},{"p":0.14,"m":12.82,"e":0.004},{"p":0.17,"m":12.84,"e":0.004},{"p":0.21,"m":12.86,"e":0.004},{"p":0.24,"m":12.87,"e":0.004},{"p":0.27,"m":12.88,"e":0.004},{"p":0.3,"m":12.94,"e":0.004},{"p":0.33,"m":12.96,"e":0.004},{"p":0.36,"m":12.97,"e":0.004},{"p":0.4,"m":13.1,"e":0.004},{"p":0.42,"m":12.98,"e":0.004},{"p":0.45,"m":12.97,"e":0.004},{"p":0.48,"m":12.99,"e":0.004},{"p":0.52,"m":12.98,"e":0.004},{"p":0.55,"m":12.96,"e":0.004},{"p":0.58,"m":12.95,"e":0.004},{"p":0.61,"m":12.92,"e":0.004},{"p":0.64,"m":12.84,"e":0.004},{"p":0.66,"m":12.88,"e":0.004},{"p":0.7,"m":12.86,"e":0.004},{"p":0.73,"m":12.82,"e":0.004},{"p":0.76,"m":12.79,"e":0.004},{"p":0.79,"m":12.81,"e":0.004},{"p":0.82,"m":12.78,"e":0.004},{"p":0.86,"m":12.8,"e":0.004},{"p":0.89,"m":12.76,"e":0.004},{"p":0.92,"m":12.77,"e":0.004},{"p":0.95,"m":12.75,"e":0.004},
{"p":1,"m":12.74,"e":0.004},{"p":1.04,"m":12.76,"e":0.004},{"p":1.07,"m":12.77,"e":0.004},{"p":1.12,"m":12.8,"e":0.004},{"p":1.14,"m":12.82,"e":0.004},{"p":1.17,"m":12.84,"e":0.004},{"p":1.21,"m":12.86,"e":0.004},{"p":1.24,"m":12.87,"e":0.004},{"p":1.27,"m":12.88,"e":0.004},{"p":1.3,"m":12.94,"e":0.004},{"p":1.33,"m":12.96,"e":0.004},{"p":1.36,"m":12.97,"e":0.004},{"p":1.4,"m":13.1,"e":0.004},{"p":1.42,"m":12.98,"e":0.004},{"p":1.45,"m":12.97,"e":0.004},{"p":1.48,"m":12.99,"e":0.004},{"p":1.52,"m":12.98,"e":0.004},{"p":1.55,"m":12.96,"e":0.004},{"p":1.58,"m":12.95,"e":0.004},{"p":1.61,"m":12.92,"e":0.004},{"p":1.64,"m":12.84,"e":0.004},{"p":1.66,"m":12.88,"e":0.004},{"p":1.7,"m":12.86,"e":0.004},{"p":1.73,"m":12.82,"e":0.004},{"p":1.76,"m":12.79,"e":0.004},{"p":1.79,"m":12.81,"e":0.004},{"p":1.82,"m":12.78,"e":0.004},{"p":1.86,"m":12.8,"e":0.004},{"p":1.89,"m":12.76,"e":0.004},{"p":1.92,"m":12.77,"e":0.004},{"p":1.95,"m":12.75,"e":0.004}],
"s208":[{"p":0,"m":13.86,"e":0.015},{"p":0.02,"m":13.89,"e":0.015},{"p":0.05,"m":13.91,"e":0.015},{"p":0.08,"m":13.9,"e":0.015},{"p":0.11,"m":13.94,"e":0.015},{"p":0.14,"m":13.92,"e":0.015},{"p":0.18,"m":13.96,"e":0.015},{"p":0.22,"m":13.97,"e":0.015},{"p":0.26,"m":14,"e":0.015},{"p":0.3,"m":14.02,"e":0.015},{"p":0.34,"m":14.03,"e":0.015},{"p":0.38,"m":14.06,"e":0.015},{"p":0.42,"m":14.08,"e":0.015},{"p":0.46,"m":14.09,"e":0.015},{"p":0.5,"m":14.07,"e":0.015},{"p":0.53,"m":14.12,"e":0.015},{"p":0.56,"m":14.08,"e":0.015},{"p":0.6,"m":14.06,"e":0.015},{"p":0.63,"m":14.09,"e":0.015},{"p":0.67,"m":14.03,"e":0.015},{"p":0.7,"m":14,"e":0.015},{"p":0.74,"m":13.97,"e":0.015},{"p":0.78,"m":13.94,"e":0.015},{"p":0.82,"m":13.93,"e":0.015},{"p":0.86,"m":13.9,"e":0.015},{"p":0.9,"m":13.92,"e":0.015},{"p":0.94,"m":13.88,"e":0.015},{"p":0.98,"m":13.89,"e":0.015},
{"p":1,"m":13.86,"e":0.015},{"p":1.02,"m":13.89,"e":0.015},{"p":1.05,"m":13.91,"e":0.015},{"p":1.08,"m":13.9,"e":0.015},{"p":1.11,"m":13.94,"e":0.015},{"p":1.14,"m":13.92,"e":0.015},{"p":1.18,"m":13.96,"e":0.015},{"p":1.22,"m":13.97,"e":0.015},{"p":1.26,"m":14,"e":0.015},{"p":1.3,"m":14.02,"e":0.015},{"p":1.34,"m":14.03,"e":0.015},{"p":1.38,"m":14.06,"e":0.015},{"p":1.42,"m":14.08,"e":0.015},{"p":1.46,"m":14.09,"e":0.015},{"p":1.5,"m":14.07,"e":0.015},{"p":1.53,"m":14.12,"e":0.015},{"p":1.56,"m":14.08,"e":0.015},{"p":1.6,"m":14.06,"e":0.015},{"p":1.63,"m":14.09,"e":0.015},{"p":1.67,"m":14.03,"e":0.015},{"p":1.7,"m":14,"e":0.015},{"p":1.74,"m":13.97,"e":0.015},{"p":1.78,"m":13.94,"e":0.015},{"p":1.82,"m":13.93,"e":0.015},{"p":1.86,"m":13.9,"e":0.015},{"p":1.9,"m":13.92,"e":0.015},{"p":1.94,"m":13.88,"e":0.015},{"p":1.98,"m":13.89,"e":0.015}],
"s209":[{"p":0,"m":14.16,"e":0.02},{"p":0.03,"m":14.2,"e":0.02},{"p":0.06,"m":14.19,"e":0.02},{"p":0.09,"m":14.21,"e":0.02},{"p":0.12,"m":14.2,"e":0.02},{"p":0.15,"m":14.22,"e":0.02},{"p":0.18,"m":14.2,"e":0.02},{"p":0.23,"m":14.36,"e":0.04},{"p":0.27,"m":14.22,"e":0.02},{"p":0.3,"m":14.24,"e":0.02},{"p":0.33,"m":14.23,"e":0.02},{"p":0.38,"m":14.3,"e":0.02},{"p":0.43,"m":14.27,"e":0.02},{"p":0.48,"m":14.32,"e":0.02},{"p":0.51,"m":14.36,"e":0.02},{"p":0.54,"m":14.4,"e":0.02},{"p":0.56,"m":14.48,"e":0.02},{"p":0.58,"m":14.51,"e":0.02},{"p":0.61,"m":14.41,"e":0.02},{"p":0.65,"m":14.43,"e":0.02},{"p":0.69,"m":14.53,"e":0.02},{"p":0.73,"m":14.43,"e":0.02},{"p":0.76,"m":14.5,"e":0.02},{"p":0.79,"m":14.36,"e":0.02},{"p":0.82,"m":14.28,"e":0.02},{"p":0.85,"m":14.22,"e":0.02},{"p":0.89,"m":14.2,"e":0.02},{"p":0.93,"m":14.21,"e":0.02},{"p":0.97,"m":14.19,"e":0.02},
{"p":1,"m":14.16,"e":0.02},{"p":1.03,"m":14.2,"e":0.02},{"p":1.06,"m":14.19,"e":0.02},{"p":1.09,"m":14.21,"e":0.02},{"p":1.12,"m":14.2,"e":0.02},{"p":1.15,"m":14.22,"e":0.02},{"p":1.18,"m":14.2,"e":0.02},{"p":1.23,"m":14.36,"e":0.04},{"p":1.27,"m":14.22,"e":0.02},{"p":1.3,"m":14.24,"e":0.02},{"p":1.33,"m":14.23,"e":0.02},{"p":1.38,"m":14.3,"e":0.02},{"p":1.43,"m":14.27,"e":0.02},{"p":1.48,"m":14.32,"e":0.02},{"p":1.51,"m":14.36,"e":0.02},{"p":1.54,"m":14.4,"e":0.02},{"p":1.56,"m":14.48,"e":0.02},{"p":1.58,"m":14.51,"e":0.02},{"p":1.61,"m":14.41,"e":0.02},{"p":1.65,"m":14.43,"e":0.02},{"p":1.69,"m":14.53,"e":0.02},{"p":1.73,"m":14.43,"e":0.02},{"p":1.76,"m":14.5,"e":0.02},{"p":1.79,"m":14.36,"e":0.02},{"p":1.82,"m":14.28,"e":0.02},{"p":1.85,"m":14.22,"e":0.02},{"p":1.89,"m":14.2,"e":0.02},{"p":1.93,"m":14.21,"e":0.02},{"p":1.97,"m":14.19,"e":0.02}],
"s210":[{"p":0,"m":13.56,"e":0.015},{"p":0.01,"m":13.68,"e":0.02},{"p":0.03,"m":13.65,"e":0.02},{"p":0.05,"m":13.7,"e":0.02},{"p":0.08,"m":13.67,"e":0.02},{"p":0.11,"m":13.71,"e":0.02},{"p":0.14,"m":13.66,"e":0.02},{"p":0.17,"m":13.7,"e":0.02},{"p":0.2,"m":13.69,"e":0.02},{"p":0.25,"m":13.77,"e":0.02},{"p":0.3,"m":13.88,"e":0.02},{"p":0.33,"m":13.92,"e":0.02},{"p":0.36,"m":13.97,"e":0.02},{"p":0.38,"m":14.06,"e":0.02},{"p":0.4,"m":13.94,"e":0.02},{"p":0.43,"m":13.82,"e":0.02},{"p":0.46,"m":13.79,"e":0.02},{"p":0.5,"m":13.74,"e":0.02},{"p":0.54,"m":13.72,"e":0.02},{"p":0.58,"m":13.7,"e":0.02},{"p":0.62,"m":13.69,"e":0.02},{"p":0.66,"m":13.66,"e":0.02},{"p":0.7,"m":13.68,"e":0.02},{"p":0.74,"m":13.65,"e":0.02},{"p":0.78,"m":13.69,"e":0.02},{"p":0.82,"m":13.67,"e":0.02},{"p":0.86,"m":13.66,"e":0.02},{"p":0.9,"m":13.68,"e":0.02},{"p":0.93,"m":13.58,"e":0.02},{"p":0.95,"m":13.69,"e":0.02},{"p":0.98,"m":13.66,"e":0.02},
{"p":1,"m":13.56,"e":0.015},{"p":1.01,"m":13.68,"e":0.02},{"p":1.03,"m":13.65,"e":0.02},{"p":1.05,"m":13.7,"e":0.02},{"p":1.08,"m":13.67,"e":0.02},{"p":1.11,"m":13.71,"e":0.02},{"p":1.14,"m":13.66,"e":0.02},{"p":1.17,"m":13.7,"e":0.02},{"p":1.2,"m":13.69,"e":0.02},{"p":1.25,"m":13.77,"e":0.02},{"p":1.3,"m":13.88,"e":0.02},{"p":1.33,"m":13.92,"e":0.02},{"p":1.36,"m":13.97,"e":0.02},{"p":1.38,"m":14.06,"e":0.02},{"p":1.4,"m":13.94,"e":0.02},{"p":1.43,"m":13.82,"e":0.02},{"p":1.46,"m":13.79,"e":0.02},{"p":1.5,"m":13.74,"e":0.02},{"p":1.54,"m":13.72,"e":0.02},{"p":1.58,"m":13.7,"e":0.02},{"p":1.62,"m":13.69,"e":0.02},{"p":1.66,"m":13.66,"e":0.02},{"p":1.7,"m":13.68,"e":0.02},{"p":1.74,"m":13.65,"e":0.02},{"p":1.78,"m":13.69,"e":0.02},{"p":1.82,"m":13.67,"e":0.02},{"p":1.86,"m":13.66,"e":0.02},{"p":1.9,"m":13.68,"e":0.02},{"p":1.93,"m":13.58,"e":0.02},{"p":1.95,"m":13.69,"e":0.02},{"p":1.98,"m":13.66,"e":0.02}],
"s211":[{"p":0,"m":14.03,"e":0.025},{"p":0.02,"m":14.1,"e":0.025},{"p":0.04,"m":14.12,"e":0.025},{"p":0.07,"m":14.09,"e":0.025},{"p":0.1,"m":14.14,"e":0.025},{"p":0.13,"m":14.18,"e":0.025},{"p":0.15,"m":14.35,"e":0.025},{"p":0.18,"m":14.16,"e":0.025},{"p":0.22,"m":14.22,"e":0.025},{"p":0.25,"m":14.26,"e":0.025},{"p":0.28,"m":14.3,"e":0.025},{"p":0.31,"m":14.33,"e":0.025},{"p":0.34,"m":14.36,"e":0.025},{"p":0.37,"m":14.44,"e":0.025},{"p":0.4,"m":14.42,"e":0.025},{"p":0.43,"m":14.38,"e":0.025},{"p":0.46,"m":14.43,"e":0.025},{"p":0.5,"m":14.36,"e":0.025},{"p":0.53,"m":14.4,"e":0.025},{"p":0.56,"m":14.45,"e":0.025},{"p":0.58,"m":14.33,"e":0.025},{"p":0.61,"m":14.2,"e":0.025},{"p":0.64,"m":14.25,"e":0.025},{"p":0.68,"m":14.18,"e":0.025},{"p":0.72,"m":14.16,"e":0.025},{"p":0.76,"m":14.12,"e":0.025},{"p":0.8,"m":14.1,"e":0.025},{"p":0.84,"m":14.12,"e":0.025},{"p":0.88,"m":14.08,"e":0.025},{"p":0.92,"m":14.1,"e":0.025},{"p":0.96,"m":14.06,"e":0.025},{"p":0.99,"m":14.09,"e":0.025},
{"p":1,"m":14.03,"e":0.025},{"p":1.02,"m":14.1,"e":0.025},{"p":1.04,"m":14.12,"e":0.025},{"p":1.07,"m":14.09,"e":0.025},{"p":1.1,"m":14.14,"e":0.025},{"p":1.13,"m":14.18,"e":0.025},{"p":1.15,"m":14.35,"e":0.025},{"p":1.18,"m":14.16,"e":0.025},{"p":1.22,"m":14.22,"e":0.025},{"p":1.25,"m":14.26,"e":0.025},{"p":1.28,"m":14.3,"e":0.025},{"p":1.31,"m":14.33,"e":0.025},{"p":1.34,"m":14.36,"e":0.025},{"p":1.37,"m":14.44,"e":0.025},{"p":1.4,"m":14.42,"e":0.025},{"p":1.43,"m":14.38,"e":0.025},{"p":1.46,"m":14.43,"e":0.025},{"p":1.5,"m":14.36,"e":0.025},{"p":1.53,"m":14.4,"e":0.025},{"p":1.56,"m":14.45,"e":0.025},{"p":1.58,"m":14.33,"e":0.025},{"p":1.61,"m":14.2,"e":0.025},{"p":1.64,"m":14.25,"e":0.025},{"p":1.68,"m":14.18,"e":0.025},{"p":1.72,"m":14.16,"e":0.025},{"p":1.76,"m":14.12,"e":0.025},{"p":1.8,"m":14.1,"e":0.025},{"p":1.84,"m":14.12,"e":0.025},{"p":1.88,"m":14.08,"e":0.025},{"p":1.92,"m":14.1,"e":0.025},{"p":1.96,"m":14.06,"e":0.025},{"p":1.99,"m":14.09,"e":0.025}],
"s212":[{"p":0,"m":13.46,"e":0.01},{"p":0.01,"m":13.49,"e":0.008},{"p":0.03,"m":13.52,"e":0.008},{"p":0.06,"m":13.52,"e":0.008},{"p":0.09,"m":13.53,"e":0.008},{"p":0.12,"m":13.54,"e":0.008},{"p":0.15,"m":13.56,"e":0.008},{"p":0.18,"m":13.59,"e":0.008},{"p":0.2,"m":13.6,"e":0.008},{"p":0.23,"m":13.61,"e":0.008},{"p":0.27,"m":13.62,"e":0.008},{"p":0.3,"m":13.61,"e":0.008},{"p":0.33,"m":13.64,"e":0.008},{"p":0.36,"m":13.66,"e":0.008},{"p":0.39,"m":13.68,"e":0.008},{"p":0.45,"m":13.71,"e":0.008},{"p":0.49,"m":13.66,"e":0.008},{"p":0.52,"m":13.64,"e":0.008},{"p":0.55,"m":13.62,"e":0.008},{"p":0.58,"m":13.61,"e":0.008},{"p":0.61,"m":13.58,"e":0.008},{"p":0.65,"m":13.55,"e":0.008},{"p":0.68,"m":13.51,"e":0.008},{"p":0.72,"m":13.53,"e":0.008},{"p":0.76,"m":13.5,"e":0.008},{"p":0.8,"m":13.52,"e":0.008},{"p":0.84,"m":13.49,"e":0.008},{"p":0.88,"m":13.51,"e":0.008},{"p":0.92,"m":13.48,"e":0.008},{"p":0.96,"m":13.49,"e":0.008},
{"p":1,"m":13.46,"e":0.01},{"p":1.01,"m":13.49,"e":0.008},{"p":1.03,"m":13.52,"e":0.008},{"p":1.06,"m":13.52,"e":0.008},{"p":1.09,"m":13.53,"e":0.008},{"p":1.12,"m":13.54,"e":0.008},{"p":1.15,"m":13.56,"e":0.008},{"p":1.18,"m":13.59,"e":0.008},{"p":1.2,"m":13.6,"e":0.008},{"p":1.23,"m":13.61,"e":0.008},{"p":1.27,"m":13.62,"e":0.008},{"p":1.3,"m":13.61,"e":0.008},{"p":1.33,"m":13.64,"e":0.008},{"p":1.36,"m":13.66,"e":0.008},{"p":1.39,"m":13.68,"e":0.008},{"p":1.45,"m":13.71,"e":0.008},{"p":1.49,"m":13.66,"e":0.008},{"p":1.52,"m":13.64,"e":0.008},{"p":1.55,"m":13.62,"e":0.008},{"p":1.58,"m":13.61,"e":0.008},{"p":1.61,"m":13.58,"e":0.008},{"p":1.65,"m":13.55,"e":0.008},{"p":1.68,"m":13.51,"e":0.008},{"p":1.72,"m":13.53,"e":0.008},{"p":1.76,"m":13.5,"e":0.008},{"p":1.8,"m":13.52,"e":0.008},{"p":1.84,"m":13.49,"e":0.008},{"p":1.88,"m":13.51,"e":0.008},{"p":1.92,"m":13.48,"e":0.008},{"p":1.96,"m":13.49,"e":0.008}],
"s213":[{"p":0,"m":14.52,"e":0.04},{"p":0.01,"m":14.59,"e":0.04},{"p":0.05,"m":14.64,"e":0.04},{"p":0.08,"m":14.6,"e":0.04},{"p":0.11,"m":14.62,"e":0.04},{"p":0.14,"m":14.59,"e":0.04},{"p":0.17,"m":14.66,"e":0.04},{"p":0.2,"m":14.63,"e":0.04},{"p":0.24,"m":14.67,"e":0.04},{"p":0.27,"m":14.64,"e":0.04},{"p":0.3,"m":14.7,"e":0.04},{"p":0.33,"m":14.66,"e":0.04},{"p":0.37,"m":14.69,"e":0.04},{"p":0.4,"m":14.65,"e":0.04},{"p":0.43,"m":14.7,"e":0.04},{"p":0.46,"m":14.67,"e":0.04},{"p":0.5,"m":14.64,"e":0.04},{"p":0.53,"m":14.68,"e":0.04},{"p":0.57,"m":14.63,"e":0.04},{"p":0.61,"m":14.66,"e":0.04},{"p":0.65,"m":14.61,"e":0.04},{"p":0.69,"m":14.64,"e":0.04},{"p":0.73,"m":14.58,"e":0.04},{"p":0.77,"m":14.6,"e":0.04},{"p":0.81,"m":14.57,"e":0.04},{"p":0.85,"m":14.59,"e":0.04},{"p":0.89,"m":14.55,"e":0.04},{"p":0.93,"m":14.58,"e":0.04},{"p":0.97,"m":14.61,"e":0.04},
{"p":1,"m":14.52,"e":0.04},{"p":1.01,"m":14.59,"e":0.04},{"p":1.05,"m":14.64,"e":0.04},{"p":1.08,"m":14.6,"e":0.04},{"p":1.11,"m":14.62,"e":0.04},{"p":1.14,"m":14.59,"e":0.04},{"p":1.17,"m":14.66,"e":0.04},{"p":1.2,"m":14.63,"e":0.04},{"p":1.24,"m":14.67,"e":0.04},{"p":1.27,"m":14.64,"e":0.04},{"p":1.3,"m":14.7,"e":0.04},{"p":1.33,"m":14.66,"e":0.04},{"p":1.37,"m":14.69,"e":0.04},{"p":1.4,"m":14.65,"e":0.04},{"p":1.43,"m":14.7,"e":0.04},{"p":1.46,"m":14.67,"e":0.04},{"p":1.5,"m":14.64,"e":0.04},{"p":1.53,"m":14.68,"e":0.04},{"p":1.57,"m":14.63,"e":0.04},{"p":1.61,"m":14.66,"e":0.04},{"p":1.65,"m":14.61,"e":0.04},{"p":1.69,"m":14.64,"e":0.04},{"p":1.73,"m":14.58,"e":0.04},{"p":1.77,"m":14.6,"e":0.04},{"p":1.81,"m":14.57,"e":0.04},{"p":1.85,"m":14.59,"e":0.04},{"p":1.89,"m":14.55,"e":0.04},{"p":1.93,"m":14.58,"e":0.04},{"p":1.97,"m":14.61,"e":0.04}],
"s214":[{"p":0,"m":12.05,"e":0.004},{"p":0.02,"m":12.08,"e":0.004},{"p":0.04,"m":12.09,"e":0.004},{"p":0.06,"m":12.07,"e":0.004},{"p":0.08,"m":12.1,"e":0.004},{"p":0.1,"m":12.08,"e":0.004},{"p":0.12,"m":12.09,"e":0.004},{"p":0.15,"m":12.11,"e":0.004},{"p":0.18,"m":12.12,"e":0.004},{"p":0.21,"m":12.14,"e":0.004},{"p":0.24,"m":12.17,"e":0.004},{"p":0.27,"m":12.19,"e":0.004},{"p":0.3,"m":12.21,"e":0.004},{"p":0.33,"m":12.23,"e":0.004},{"p":0.36,"m":12.25,"e":0.004},{"p":0.39,"m":12.28,"e":0.004},{"p":0.42,"m":12.37,"e":0.004},{"p":0.45,"m":12.3,"e":0.004},{"p":0.48,"m":12.34,"e":0.004},{"p":0.51,"m":12.36,"e":0.004},{"p":0.54,"m":12.35,"e":0.004},{"p":0.57,"m":12.38,"e":0.004},{"p":0.6,"m":12.36,"e":0.004},{"p":0.63,"m":12.35,"e":0.004},{"p":0.66,"m":12.32,"e":0.004},{"p":0.69,"m":12.28,"e":0.004},{"p":0.72,"m":12.27,"e":0.004},{"p":0.75,"m":12.25,"e":0.004},{"p":0.78,"m":12.22,"e":0.004},{"p":0.81,"m":12.19,"e":0.004},{"p":0.84,"m":12.16,"e":0.004},{"p":0.87,"m":12.14,"e":0.004},{"p":0.9,"m":12.11,"e":0.004},{"p":0.93,"m":12.1,"e":0.004},{"p":0.96,"m":12.09,"e":0.004},{"p":0.99,"m":12.1,"e":0.004},
{"p":1,"m":12.05,"e":0.004},{"p":1.02,"m":12.08,"e":0.004},{"p":1.04,"m":12.09,"e":0.004},{"p":1.06,"m":12.07,"e":0.004},{"p":1.08,"m":12.1,"e":0.004},{"p":1.1,"m":12.08,"e":0.004},{"p":1.12,"m":12.09,"e":0.004},{"p":1.15,"m":12.11,"e":0.004},{"p":1.18,"m":12.12,"e":0.004},{"p":1.21,"m":12.14,"e":0.004},{"p":1.24,"m":12.17,"e":0.004},{"p":1.27,"m":12.19,"e":0.004},{"p":1.3,"m":12.21,"e":0.004},{"p":1.33,"m":12.23,"e":0.004},{"p":1.36,"m":12.25,"e":0.004},{"p":1.39,"m":12.28,"e":0.004},{"p":1.42,"m":12.37,"e":0.004},{"p":1.45,"m":12.3,"e":0.004},{"p":1.48,"m":12.34,"e":0.004},{"p":1.51,"m":12.36,"e":0.004},{"p":1.54,"m":12.35,"e":0.004},{"p":1.57,"m":12.38,"e":0.004},{"p":1.6,"m":12.36,"e":0.004},{"p":1.63,"m":12.35,"e":0.004},{"p":1.66,"m":12.32,"e":0.004},{"p":1.69,"m":12.28,"e":0.004},{"p":1.72,"m":12.27,"e":0.004},{"p":1.75,"m":12.25,"e":0.004},{"p":1.78,"m":12.22,"e":0.004},{"p":1.81,"m":12.19,"e":0.004},{"p":1.84,"m":12.16,"e":0.004},{"p":1.87,"m":12.14,"e":0.004},{"p":1.9,"m":12.11,"e":0.004},{"p":1.93,"m":12.1,"e":0.004},{"p":1.96,"m":12.09,"e":0.004},{"p":1.99,"m":12.1,"e":0.004}],
"s215":[{"p":0,"m":14.36,"e":0.015},{"p":0.02,"m":14.38,"e":0.015},{"p":0.05,"m":14.4,"e":0.015},{"p":0.08,"m":14.39,"e":0.015},{"p":0.11,"m":14.42,"e":0.015},{"p":0.14,"m":14.41,"e":0.015},{"p":0.17,"m":14.44,"e":0.015},{"p":0.22,"m":14.47,"e":0.015},{"p":0.37,"m":14.55,"e":0.015},{"p":0.39,"m":14.59,"e":0.015},{"p":0.42,"m":14.82,"e":0.015},{"p":0.45,"m":14.6,"e":0.015},{"p":0.48,"m":14.63,"e":0.015},{"p":0.51,"m":14.66,"e":0.015},{"p":0.54,"m":14.72,"e":0.02},{"p":0.57,"m":14.7,"e":0.02},{"p":0.6,"m":14.68,"e":0.015},{"p":0.62,"m":14.62,"e":0.015},{"p":0.65,"m":14.55,"e":0.015},{"p":0.69,"m":14.38,"e":0.015},{"p":0.73,"m":14.37,"e":0.015},{"p":0.77,"m":14.39,"e":0.015},{"p":0.81,"m":14.4,"e":0.015},{"p":0.85,"m":14.37,"e":0.015},{"p":0.89,"m":14.39,"e":0.015},{"p":0.93,"m":14.4,"e":0.015},{"p":0.97,"m":14.38,"e":0.015},
{"p":1,"m":14.36,"e":0.015},{"p":1.02,"m":14.38,"e":0.015},{"p":1.05,"m":14.4,"e":0.015},{"p":1.08,"m":14.39,"e":0.015},{"p":1.11,"m":14.42,"e":0.015},{"p":1.14,"m":14.41,"e":0.015},{"p":1.17,"m":14.44,"e":0.015},{"p":1.22,"m":14.47,"e":0.015},{"p":1.37,"m":14.55,"e":0.015},{"p":1.39,"m":14.59,"e":0.015},{"p":1.42,"m":14.82,"e":0.015},{"p":1.45,"m":14.6,"e":0.015},{"p":1.48,"m":14.63,"e":0.015},{"p":1.51,"m":14.66,"e":0.015},{"p":1.54,"m":14.72,"e":0.02},{"p":1.57,"m":14.7,"e":0.02},{"p":1.6,"m":14.68,"e":0.015},{"p":1.62,"m":14.62,"e":0.015},{"p":1.65,"m":14.55,"e":0.015},{"p":1.69,"m":14.38,"e":0.015},{"p":1.73,"m":14.37,"e":0.015},{"p":1.77,"m":14.39,"e":0.015},{"p":1.81,"m":14.4,"e":0.015},{"p":1.85,"m":14.37,"e":0.015},{"p":1.89,"m":14.39,"e":0.015},{"p":1.93,"m":14.4,"e":0.015},{"p":1.97,"m":14.38,"e":0.015}],
"s216":[{"p":0,"m":14.25,"e":0.03},{"p":0.03,"m":14.31,"e":0.03},{"p":0.06,"m":14.33,"e":0.03},{"p":0.09,"m":14.3,"e":0.03},{"p":0.12,"m":14.34,"e":0.03},{"p":0.15,"m":14.32,"e":0.03},{"p":0.19,"m":14.31,"e":0.03},{"p":0.23,"m":14.36,"e":0.03},{"p":0.28,"m":14.38,"e":0.03},{"p":0.32,"m":14.5,"e":0.03},{"p":0.35,"m":14.4,"e":0.03},{"p":0.38,"m":14.44,"e":0.03},{"p":0.41,"m":14.46,"e":0.03},{"p":0.44,"m":14.61,"e":0.03},{"p":0.46,"m":14.49,"e":0.03},{"p":0.49,"m":14.47,"e":0.03},{"p":0.52,"m":14.5,"e":0.03},{"p":0.56,"m":14.46,"e":0.03},{"p":0.6,"m":14.44,"e":0.03},{"p":0.64,"m":14.42,"e":0.03},{"p":0.68,"m":14.4,"e":0.03},{"p":0.72,"m":14.37,"e":0.03},{"p":0.76,"m":14.35,"e":0.03},{"p":0.8,"m":14.34,"e":0.03},{"p":0.84,"m":14.36,"e":0.03},{"p":0.88,"m":14.33,"e":0.03},{"p":0.92,"m":14.32,"e":0.03},{"p":0.96,"m":14.3,"e":0.03},{"p":0.99,"m":14.28,"e":0.03},
{"p":1,"m":14.25,"e":0.03},{"p":1.03,"m":14.31,"e":0.03},{"p":1.06,"m":14.33,"e":0.03},{"p":1.09,"m":14.3,"e":0.03},{"p":1.12,"m":14.34,"e":0.03},{"p":1.15,"m":14.32,"e":0.03},{"p":1.19,"m":14.31,"e":0.03},{"p":1.23,"m":14.36,"e":0.03},{"p":1.28,"m":14.38,"e":0.03},{"p":1.32,"m":14.5,"e":0.03},{"p":1.35,"m":14.4,"e":0.03},{"p":1.38,"m":14.44,"e":0.03},{"p":1.41,"m":14.46,"e":0.03},{"p":1.44,"m":14.61,"e":0.03},{"p":1.46,"m":14.49,"e":0.03},{"p":1.49,"m":14.47,"e":0.03},{"p":1.52,"m":14.5,"e":0.03},{"p":1.56,"m":14.46,"e":0.03},{"p":1.6,"m":14.44,"e":0.03},{"p":1.64,"m":14.42,"e":0.03},{"p":1.68,"m":14.4,"e":0.03},{"p":1.72,"m":14.37,"e":0.03},{"p":1.76,"m":14.35,"e":0.03},{"p":1.8,"m":14.34,"e":0.03},{"p":1.84,"m":14.36,"e":0.03},{"p":1.88,"m":14.33,"e":0.03},{"p":1.92,"m":14.32,"e":0.03},{"p":1.96,"m":14.3,"e":0.03},{"p":1.99,"m":14.28,"e":0.03}]
},
"concat":[
{"title":"190 - VVV J175113.82-183107.5 - Prob=0.5001","data":{"name":"s190"},"encoding":{"x":{"field":"p","type":"quantitative","scale":{"domain":[-0.1,2.09],"nice":false},"axis":{"values":[0,0.5,1,1.5,2],"format":".1f","title":"Phase"}},"y":{"field":"m","type":"quantitative","scale":{"domain":[14.38,14.75],"reverse":true,"nice":false,"zero":false},"axis":{"values":[14.4,14.5,14.6,14.7],"format":".1f","title":"Ks (mag)"}}},"layer":[{"mark":{"type":"errorbar","color":"#ff0000","thickness":1.3},"encoding":{"yError":{"field":"e"}}},{"mark":{"type":"circle","color":"black","size":10,"opacity":1}}]},
{"title":"191 - VVV J181342.66-342803.1 - Prob=0.4991","data":{"name":"s191"},"encoding":{"x":{"field":"p","type":"quantitative","scale":{"domain":[-0.1,2.09],"nice":false},"axis":{"values":[0,0.5,1,1.5,2],"format":".1f","title":"Phase"}},"y":{"field":"m","type":"quantitative","scale":{"domain":[14.5,15.09],"reverse":true,"nice":false,"zero":false},"axis":{"values":[14.6,14.8,15.0],"format":".1f","title":"Ks (mag)"}}},"layer":[{"mark":{"type":"errorbar","color":"#ff0000","thickness":1.3},"encoding":{"yError":{"field":"e"}}},{"mark":{"type":"circle","color":"black","size":10,"opacity":1}}]},
{"title":"192 - VVV J173244.85-285440.1 - Prob=0.4985","data":{"name":"s192"},"encoding":{"x":{"field":"p","type":"quantitative","scale":{"domain":[-0.1,2.09],"nice":false},"axis":{"values":[0,0.5,1,1.5,2],"format":".1f","title":"Phase"}},"y":{"field":"m","type":"quantitative","scale":{"domain":[14.32,14.94],"reverse":true,"nice":false,"zero":false},"axis":{"values":[14.4,14.6,14.8],"format":".1f","title":"Ks (mag)"}}},"layer":[{"mark":{"type":"errorbar","color":"#ff0000","thickness":1.3},"encoding":{"yError":{"field":"e"}}},{"mark":{"type":"circle","color":"black","size":10,"opacity":1}}]},
{"title":"193 - VVV J175213.79-180827.9 - Prob=0.4981","data":{"name":"s193"},"encoding":{"x":{"field":"p","type":"quantitative","scale":{"domain":[-0.1,2.09],"nice":false},"axis":{"values":[0,0.5,1,1.5,2],"format":".1f","title":"Phase"}},"y":{"field":"m","type":"quantitative","scale":{"domain":[14.09,14.52],"reverse":true,"nice":false,"zero":false},"axis":{"values":[14.2,14.4],"format":".1f","title":"Ks (mag)"}}},"layer":[{"mark":{"type":"errorbar","color":"#ff0000","thickness":1.3},"encoding":{"yError":{"field":"e"}}},{"mark":{"type":"circle","color":"black","size":10,"opacity":1}}]},
{"title":"194 - VVV J175112.95-190345.5 - Prob=0.4973","data":{"name":"s194"},"encoding":{"x":{"field":"p","type":"quantitative","scale":{"domain":[-0.1,2.09],"nice":false},"axis":{"values":[0,0.5,1,1.5,2],"format":".1f","title":"Phase"}},"y":{"field":"m","type":"quantitative","scale":{"domain":[13.67,14.03],"reverse":true,"nice":false,"zero":false},"axis":{"values":[13.7,13.8,13.9,14.0],"format":".1f","title":"Ks (mag)"}}},"layer":[{"mark":{"type":"errorbar","color":"#ff0000","thickness":1.3},"encoding":{"yError":{"field":"e"}}},{"mark":{"type":"circle","color":"black","size":10,"opacity":1}}]},
{"title":"195 - VVV J183751.54-242902.7 - Prob=0.4965","data":{"name":"s195"},"encoding":{"x":{"field":"p","type":"quantitative","scale":{"domain":[-0.1,2.09],"nice":false},"axis":{"values":[0,0.5,1,1.5,2],"format":".1f","title":"Phase"}},"y":{"field":"m","type":"quantitative","scale":{"domain":[14.85,15.33],"reverse":true,"nice":false,"zero":false},"axis":{"values":[15.0,15.2],"format":".1f","title":"Ks (mag)"}}},"layer":[{"mark":{"type":"errorbar","color":"#ff0000","thickness":1.3},"encoding":{"yError":{"field":"e"}}},{"mark":{"type":"circle","color":"black","size":10,"opacity":1}}]},
{"title":"196 - VVV J174819.09-183741.8 - Prob=0.4964","data":{"name":"s196"},"encoding":{"x":{"field":"p","type":"quantitative","scale":{"domain":[-0.1,2.09],"nice":false},"axis":{"values":[0,0.5,1,1.5,2],"format":".1f","title":"Phase"}},"y":{"field":"m","type":"quantitative","scale":{"domain":[14.47,14.875],"reverse":true,"nice":false,"zero":false},"axis":{"values":[14.6,14.8],"format":".1f","title":"Ks (mag)"}}},"layer":[{"mark":{"type":"errorbar","color":"#ff0000","thickness":1.3},"encoding":{"yError":{"field":"e"}}},{"mark":{"type":"circle","color":"black","size":10,"opacity":1}}]},
{"title":"197 - VVV J175404.34-175811.2 - Prob=0.4960","data":{"name":"s197"},"encoding":{"x":{"field":"p","type":"quantitative","scale":{"domain":[-0.1,2.09],"nice":false},"axis":{"values":[0,0.5,1,1.5,2],"format":".1f","title":"Phase"}},"y":{"field":"m","type":"quantitative","scale":{"domain":[12.64,13.1],"reverse":true,"nice":false,"zero":false},"axis":{"values":[12.8,13.0],"format":".1f","title":"Ks (mag)"}}},"layer":[{"mark":{"type":"errorbar","color":"#ff0000","thickness":1.3},"encoding":{"yError":{"field":"e"}}},{"mark":{"type":"circle","color":"black","size":10,"opacity":1}}]},
{"title":"198 - VVV J175008.70-180601.2 - Prob=0.4929","data":{"name":"s198"},"encoding":{"x":{"field":"p","type":"quantitative","scale":{"domain":[-0.1,2.09],"nice":false},"axis":{"values":[0,0.5,1,1.5,2],"format":".1f","title":"Phase"}},"y":{"field":"m","type":"quantitative","scale":{"domain":[13.753,13.999],"reverse":true,"nice":false,"zero":false},"axis":{"values":[13.8,13.9],"format":".1f","title":"Ks (mag)"}}},"layer":[{"mark":{"type":"errorbar","color":"#ff0000","thickness":1.3},"encoding":{"yError":{"field":"e"}}},{"mark":{"type":"circle","color":"black","size":10,"opacity":1}}]},
{"title":"199 - VVV J184000.98-244740.2 - Prob=0.4889","data":{"name":"s199"},"encoding":{"x":{"field":"p","type":"quantitative","scale":{"domain":[-0.1,2.09],"nice":false},"axis":{"values":[0,0.5,1,1.5,2],"format":".1f","title":"Phase"}},"y":{"field":"m","type":"quantitative","scale":{"domain":[14.54,14.94],"reverse":true,"nice":false,"zero":false},"axis":{"values":[14.6,14.8],"format":".1f","title":"Ks (mag)"}}},"layer":[{"mark":{"type":"errorbar","color":"#ff0000","thickness":1.3},"encoding":{"yError":{"field":"e"}}},{"mark":{"type":"circle","color":"black","size":10,"opacity":1}}]},
{"title":"200 - VVV J173148.03-295554.0 - Prob=0.4887","data":{"name":"s200"},"encoding":{"x":{"field":"p","type":"quantitative","scale":{"domain":[-0.1,2.09],"nice":false},"axis":{"values":[0,0.5,1,1.5,2],"format":".1f","title":"Phase"}},"y":{"field":"m","type":"quantitative","scale":{"domain":[14.24,15.03],"reverse":true,"nice":false,"zero":false},"axis":{"values":[14.25,14.5,14.75,15.0],"format":".2f","title":"Ks (mag)"}}},"layer":[{"mark":{"type":"errorbar","color":"#ff0000","thickness":1.3},"encoding":{"yError":{"field":"e"}}},{"mark":{"type":"circle","color":"black","size":10,"opacity":1}}]},
{"title":"201 - VVV J184124.06-245403.1 - Prob=0.4880","data":{"name":"s201"},"encoding":{"x":{"field":"p","type":"quantitative","scale":{"domain":[-0.1,2.09],"nice":false},"axis":{"values":[0,0.5,1,1.5,2],"format":".1f","title":"Phase"}},"y":{"field":"m","type":"quantitative","scale":{"domain":[14.3,14.73],"reverse":true,"nice":false,"zero":false},"axis":{"values":[14.4,14.6],"format":".1f","title":"Ks (mag)"}}},"layer":[{"mark":{"type":"errorbar","color":"#ff0000","thickness":1.3},"encoding":{"yError":{"field":"e"}}},{"mark":{"type":"circle","color":"black","size":10,"opacity":1}}]},
{"title":"202 - VVV J175246.17-183139.2 - Prob=0.4875","data":{"name":"s202"},"encoding":{"x":{"field":"p","type":"quantitative","scale":{"domain":[-0.1,2.09],"nice":false},"axis":{"values":[0,0.5,1,1.5,2],"format":".1f","title":"Phase"}},"y":{"field":"m","type":"quantitative","scale":{"domain":[14.36,14.76],"reverse":true,"nice":false,"zero":false},"axis":{"values":[14.4,14.6],"format":".1f","title":"Ks (mag)"}}},"layer":[{"mark":{"type":"errorbar","color":"#ff0000","thickness":1.3},"encoding":{"yError":{"field":"e"}}},{"mark":{"type":"circle","color":"black","size":10,"opacity":1}}]},
{"title":"203 - VVV J175027.88-180122.6 - Prob=0.4872","data":{"name":"s203"},"encoding":{"x":{"field":"p","type":"quantitative","scale":{"domain":[-0.1,2.09],"nice":false},"axis":{"values":[0,0.5,1,1.5,2],"format":".1f","title":"Phase"}},"y":{"field":"m","type":"quantitative","scale":{"domain":[13.95,14.61],"reverse":true,"nice":false,"zero":false},"axis":{"values":[14.0,14.2,14.4,14.6],"format":".1f","title":"Ks (mag)"}}},"layer":[{"mark":{"type":"errorbar","color":"#ff0000","thickness":1.3},"encoding":{"yError":{"field":"e"}}},{"mark":{"type":"circle","color":"black","size":10,"opacity":1}}]},
{"title":"204 - VVV J173148.40-291123.4 - Prob=0.4865","data":{"name":"s204"},"encoding":{"x":{"field":"p","type":"quantitative","scale":{"domain":[-0.1,2.09],"nice":false},"axis":{"values":[0,0.5,1,1.5,2],"format":".1f","title":"Phase"}},"y":{"field":"m","type":"quantitative","scale":{"domain":[13.19,13.64],"reverse":true,"nice":false,"zero":false},"axis":{"values":[13.2,13.4,13.6],"format":".1f","title":"Ks (mag)"}}},"layer":[{"mark":{"type":"errorbar","color":"#ff0000","thickness":1.3},"encoding":{"yError":{"field":"e"}}},{"mark":{"type":"circle","color":"black","size":10,"opacity":1}}]},
{"title":"205 - VVV J173316.61-285514.8 - Prob=0.4865","data":{"name":"s205"},"encoding":{"x":{"field":"p","type":"quantitative","scale":{"domain":[-0.1,2.09],"nice":false},"axis":{"values":[0,0.5,1,1.5,2],"format":".1f","title":"Phase"}},"y":{"field":"m","type":"quantitative","scale":{"domain":[13.74,14.375],"reverse":true,"nice":false,"zero":false},"axis":{"values":[13.8,14.0,14.2],"format":".1f","title":"Ks (mag)"}}},"layer":[{"mark":{"type":"errorbar","color":"#ff0000","thickness":1.3},"encoding":{"yError":{"field":"e"}}},{"mark":{"type":"circle","color":"black","size":10,"opacity":1}}]},
{"title":"206 - VVV J181102.10-345941.2 - Prob=0.4864","data":{"name":"s206"},"encoding":{"x":{"field":"p","type":"quantitative","scale":{"domain":[-0.1,2.09],"nice":false},"axis":{"values":[0,0.5,1,1.5,2],"format":".1f","title":"Phase"}},"y":{"field":"m","type":"quantitative","scale":{"domain":[13.785,14.14],"reverse":true,"nice":false,"zero":false},"axis":{"values":[13.8,13.9,14.0,14.1],"format":".1f","title":"Ks (mag)"}}},"layer":[{"mark":{"type":"errorbar","color":"#ff0000","thickness":1.3},"encoding":{"yError":{"field":"e"}}},{"mark":{"type":"circle","color":"black","size":10,"opacity":1}}]},
{"title":"207 - VVV J183940.52-242911.6 - Prob=0.4860","data":{"name":"s207"},"encoding":{"x":{"field":"p","type":"quantitative","scale":{"domain":[-0.1,2.09],"nice":false},"axis":{"values":[0,0.5,1,1.5,2],"format":".1f","title":"Phase"}},"y":{"field":"m","type":"quantitative","scale":{"domain":[12.735,13.115],"reverse":true,"nice":false,"zero":false},"axis":{"values":[12.8,12.9,13.0,13.1],"format":".1f","title":"Ks (mag)"}}},"layer":[{"mark":{"type":"errorbar","color":"#ff0000","thickness":1.3},"encoding":{"yError":{"field":"e"}}},{"mark":{"type":"circle","color":"black","size":10,"opacity":1}}]},
{"title":"208 - VVV J175210.36-181822.1 - Prob=0.4860","data":{"name":"s208"},"encoding":{"x":{"field":"p","type":"quantitative","scale":{"domain":[-0.1,2.09],"nice":false},"axis":{"values":[0,0.5,1,1.5,2],"format":".1f","title":"Phase"}},"y":{"field":"m","type":"quantitative","scale":{"domain":[13.83,14.165],"reverse":true,"nice":false,"zero":false},"axis":{"values":[13.9,14.0,14.1],"format":".1f","title":"Ks (mag)"}}},"layer":[{"mark":{"type":"errorbar","color":"#ff0000","thickness":1.3},"encoding":{"yError":{"field":"e"}}},{"mark":{"type":"circle","color":"black","size":10,"opacity":1}}]},
{"title":"209 - VVV J181347.03-350812.9 - Prob=0.4860","data":{"name":"s209"},"encoding":{"x":{"field":"p","type":"quantitative","scale":{"domain":[-0.1,2.09],"nice":false},"axis":{"values":[0,0.5,1,1.5,2],"format":".1f","title":"Phase"}},"y":{"field":"m","type":"quantitative","scale":{"domain":[14.13,14.58],"reverse":true,"nice":false,"zero":false},"axis":{"values":[14.2,14.4],"format":".1f","title":"Ks (mag)"}}},"layer":[{"mark":{"type":"errorbar","color":"#ff0000","thickness":1.3},"encoding":{"yError":{"field":"e"}}},{"mark":{"type":"circle","color":"black","size":10,"opacity":1}}]},
{"title":"210 - VVV J175151.82-181311.0 - Prob=0.4855","data":{"name":"s210"},"encoding":{"x":{"field":"p","type":"quantitative","scale":{"domain":[-0.1,2.09],"nice":false},"axis":{"values":[0,0.5,1,1.5,2],"format":".1f","title":"Phase"}},"y":{"field":"m","type":"quantitative","scale":{"domain":[13.49,14.17],"reverse":true,"nice":false,"zero":false},"axis":{"values":[13.6,13.8,14.0],"format":".1f","title":"Ks (mag)"}}},"layer":[{"mark":{"type":"errorbar","color":"#ff0000","thickness":1.3},"encoding":{"yError":{"field":"e"}}},{"mark":{"type":"circle","color":"black","size":10,"opacity":1}}]},
{"title":"211 - VVV J174858.70-184406.4 - Prob=0.4849","data":{"name":"s211"},"encoding":{"x":{"field":"p","type":"quantitative","scale":{"domain":[-0.1,2.09],"nice":false},"axis":{"values":[0,0.5,1,1.5,2],"format":".1f","title":"Phase"}},"y":{"field":"m","type":"quantitative","scale":{"domain":[13.95,14.515],"reverse":true,"nice":false,"zero":false},"axis":{"values":[14.0,14.2,14.4],"format":".1f","title":"Ks (mag)"}}},"layer":[{"mark":{"type":"errorbar","color":"#ff0000","thickness":1.3},"encoding":{"yError":{"field":"e"}}},{"mark":{"type":"circle","color":"black","size":10,"opacity":1}}]},
{"title":"212 - VVV J184708.08-242541.1 - Prob=0.4827","data":{"name":"s212"},"encoding":{"x":{"field":"p","type":"quantitative","scale":{"domain":[-0.1,2.09],"nice":false},"axis":{"values":[0,0.5,1,1.5,2],"format":".1f","title":"Phase"}},"y":{"field":"m","type":"quantitative","scale":{"domain":[13.434,13.73],"reverse":true,"nice":false,"zero":false},"axis":{"values":[13.5,13.6,13.7],"format":".1f","title":"Ks (mag)"}}},"layer":[{"mark":{"type":"errorbar","color":"#ff0000","thickness":1.3},"encoding":{"yError":{"field":"e"}}},{"mark":{"type":"circle","color":"black","size":10,"opacity":1}}]},
{"title":"213 - VVV J175234.27-174823.7 - Prob=0.4816","data":{"name":"s213"},"encoding":{"x":{"field":"p","type":"quantitative","scale":{"domain":[-0.1,2.09],"nice":false},"axis":{"values":[0,0.5,1,1.5,2],"format":".1f","title":"Phase"}},"y":{"field":"m","type":"quantitative","scale":{"domain":[14.47,14.76],"reverse":true,"nice":false,"zero":false},"axis":{"values":[14.5,14.6,14.7],"format":".1f","title":"Ks (mag)"}}},"layer":[{"mark":{"type":"errorbar","color":"#ff0000","thickness":1.3},"encoding":{"yError":{"field":"e"}}},{"mark":{"type":"circle","color":"black","size":10,"opacity":1}}]},
{"title":"214 - VVV J181117.24-344747.3 - Prob=0.4809","data":{"name":"s214"},"encoding":{"x":{"field":"p","type":"quantitative","scale":{"domain":[-0.1,2.09],"nice":false},"axis":{"values":[0,0.5,1,1.5,2],"format":".1f","title":"Phase"}},"y":{"field":"m","type":"quantitative","scale":{"domain":[12.026,12.41],"reverse":true,"nice":false,"zero":false},"axis":{"values":[12.1,12.2,12.3,12.4],"format":".1f","title":"Ks (mag)"}}},"layer":[{"mark":{"type":"errorbar","color":"#ff0000","thickness":1.3},"encoding":{"yError":{"field":"e"}}},{"mark":{"type":"circle","color":"black","size":10,"opacity":1}}]},
{"title":"215 - VVV J182028.27-342613.1 - Prob=0.4804","data":{"name":"s215"},"encoding":{"x":{"field":"p","type":"quantitative","scale":{"domain":[-0.1,2.09],"nice":false},"axis":{"values":[0,0.5,1,1.5,2],"format":".1f","title":"Phase"}},"y":{"field":"m","type":"quantitative","scale":{"domain":[14.3,14.87],"reverse":true,"nice":false,"zero":false},"axis":{"values":[14.4,14.6,14.8],"format":".1f","title":"Ks (mag)"}}},"layer":[{"mark":{"type":"errorbar","color":"#ff0000","thickness":1.3},"encoding":{"yError":{"field":"e"}}},{"mark":{"type":"circle","color":"black","size":10,"opacity":1}}]},
{"title":"216 - VVV J181357.03-343414.2 - Prob=0.4804","data":{"name":"s216"},"encoding":{"x":{"field":"p","type":"quantitative","scale":{"domain":[-0.1,2.09],"nice":false},"axis":{"values":[0,0.5,1,1.5,2],"format":".1f","title":"Phase"}},"y":{"field":"m","type":"quantitative","scale":{"domain":[14.195,14.66],"reverse":true,"nice":false,"zero":false},"axis":{"values":[14.2,14.4,14.6],"format":".1f","title":"Ks (mag)"}}},"layer":[{"mark":{"type":"errorbar","color":"#ff0000","thickness":1.3},"encoding":{"yError":{"field":"e"}}},{"mark":{"type":"circle","color":"black","size":10,"opacity":1}}]}
],
"config":{
"font":"DejaVu Sans",
"view":{"stroke":"black","strokeWidth":0.8,"continuousWidth":190,"continuousHeight":72},
"axis":{"labelFontSize":8,"titleFontSize":8.5,"titleFontWeight":"normal","labelColor":"black","titleColor":"black","tickColor":"black","domainColor":"black","grid":false,"tickSize":3,"domainWidth":0.8,"tickWidth":0.8,"labelPadding":1.5,"titlePadding":2,"labelFont":"DejaVu Sans","titleFont":"DejaVu Sans"},
"axisY":{"minExtent":25,"maxExtent":25,"labelPadding":2},
"title":{"fontSize":8.3,"fontWeight":"normal","offset":3,"color":"black","font":"DejaVu Sans"}
}
}
